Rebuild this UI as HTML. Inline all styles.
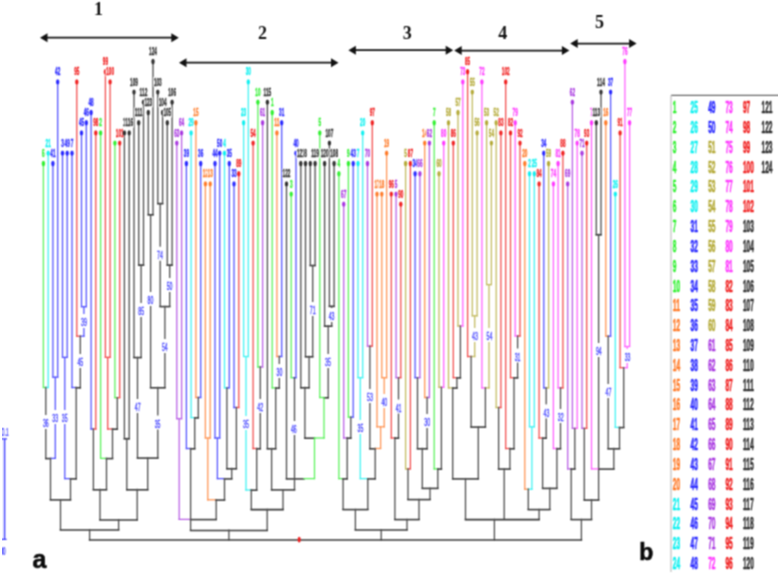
<!DOCTYPE html>
<html><head><meta charset="utf-8"><title>Dendrogram</title>
<style>html,body{margin:0;padding:0;background:#fff;}body{width:778px;height:577px;position:relative;overflow:hidden;font-family:"Liberation Sans",sans-serif;}</style></head>
<body>
<svg width="778" height="577" viewBox="0 0 778 577" style="position:absolute;left:0;top:0">
<defs><filter id="bl" x="0" y="0" width="100%" height="100%" color-interpolation-filters="sRGB"><feConvolveMatrix order="3" kernelMatrix="0.0576 0.1248 0.0576 0.1248 0.2704 0.1248 0.0576 0.1248 0.0576" divisor="1" edgeMode="duplicate" preserveAlpha="false"/></filter></defs>
<g filter="url(#bl)">
<g fill="none" stroke-linecap="square">
<path d="M43.4 163.5L43.4 387.5" stroke="#55f255" stroke-width="1.25"/>
<path d="M48.2 153.3L48.2 387.5" stroke="#3bf2f2" stroke-width="1.25"/>
<path d="M43.4 387.5L45.8 387.5" stroke="#55f255" stroke-width="1.25"/>
<path d="M45.8 387.5L48.2 387.5" stroke="#3bf2f2" stroke-width="1.25"/>
<path d="M52.9 163.5L52.9 377.2" stroke="#4e4eff" stroke-width="1.25"/>
<path d="M57.7 81.9L57.7 377.2" stroke="#4e4eff" stroke-width="1.25"/>
<path d="M52.9 377.2L57.7 377.2" stroke="#4e4eff" stroke-width="1.25"/>
<path d="M45.8 387.5L45.8 458.4" stroke="#4c4c4c" stroke-width="1.3"/>
<path d="M55.3 377.2L55.3 458.4" stroke="#4e4eff" stroke-width="1.25"/>
<path d="M45.8 458.6L50.5 458.6" stroke="#383838" stroke-width="1.55"/>
<path d="M50.5 458.4L55.3 458.4" stroke="#4e4eff" stroke-width="1.25"/>
<path d="M62.5 153.3L62.5 357.4" stroke="#4e4eff" stroke-width="1.25"/>
<path d="M67.2 153.3L67.2 357.4" stroke="#4e4eff" stroke-width="1.25"/>
<path d="M62.5 357.4L67.2 357.4" stroke="#4e4eff" stroke-width="1.25"/>
<path d="M81.5 132.9L81.5 306.7" stroke="#4e4eff" stroke-width="1.25"/>
<path d="M86.3 122.7L86.3 306.7" stroke="#4e4eff" stroke-width="1.25"/>
<path d="M81.5 306.7L86.3 306.7" stroke="#4e4eff" stroke-width="1.25"/>
<path d="M76.8 81.9L76.8 336.2" stroke="#f24848" stroke-width="1.25"/>
<path d="M83.9 306.7L83.9 336.2" stroke="#4e4eff" stroke-width="1.25"/>
<path d="M76.8 336.2L80.3 336.2" stroke="#f24848" stroke-width="1.25"/>
<path d="M80.3 336.2L83.9 336.2" stroke="#4e4eff" stroke-width="1.25"/>
<path d="M72.0 153.3L72.0 387.5" stroke="#4e4eff" stroke-width="1.25"/>
<path d="M80.3 336.2L80.3 387.5" stroke="#4c4c4c" stroke-width="1.3"/>
<path d="M72.0 387.5L76.2 387.5" stroke="#4e4eff" stroke-width="1.25"/>
<path d="M76.2 387.8L80.3 387.8" stroke="#383838" stroke-width="1.55"/>
<path d="M64.8 357.4L64.8 478.6" stroke="#4e4eff" stroke-width="1.25"/>
<path d="M76.2 387.5L76.2 478.6" stroke="#4c4c4c" stroke-width="1.3"/>
<path d="M64.8 478.6L70.5 478.6" stroke="#4e4eff" stroke-width="1.25"/>
<path d="M70.5 478.9L76.2 478.9" stroke="#383838" stroke-width="1.55"/>
<path d="M50.5 458.4L50.5 499.7" stroke="#4c4c4c" stroke-width="1.3"/>
<path d="M70.5 478.6L70.5 499.7" stroke="#4c4c4c" stroke-width="1.3"/>
<path d="M50.5 499.9L70.5 499.9" stroke="#383838" stroke-width="1.55"/>
<path d="M91.1 112.5L91.1 429.0" stroke="#4e4eff" stroke-width="1.25"/>
<path d="M95.8 132.9L95.8 429.0" stroke="#f24848" stroke-width="1.25"/>
<path d="M91.1 429.0L93.4 429.0" stroke="#4e4eff" stroke-width="1.25"/>
<path d="M93.4 429.0L95.8 429.0" stroke="#f24848" stroke-width="1.25"/>
<path d="M105.4 71.7L105.4 357.4" stroke="#f24848" stroke-width="1.25"/>
<path d="M110.1 81.9L110.1 357.4" stroke="#f24848" stroke-width="1.25"/>
<path d="M105.4 357.4L110.1 357.4" stroke="#f24848" stroke-width="1.25"/>
<path d="M114.9 143.1L114.9 397.7" stroke="#55f255" stroke-width="1.25"/>
<path d="M119.7 143.1L119.7 397.7" stroke="#f24848" stroke-width="1.25"/>
<path d="M114.9 397.7L117.3 397.7" stroke="#55f255" stroke-width="1.25"/>
<path d="M117.3 397.7L119.7 397.7" stroke="#f24848" stroke-width="1.25"/>
<path d="M107.7 357.4L107.7 429.0" stroke="#f24848" stroke-width="1.25"/>
<path d="M117.3 397.7L117.3 429.0" stroke="#4c4c4c" stroke-width="1.3"/>
<path d="M107.7 429.0L112.5 429.0" stroke="#f24848" stroke-width="1.25"/>
<path d="M112.5 429.2L117.3 429.2" stroke="#383838" stroke-width="1.55"/>
<path d="M100.6 132.9L100.6 458.4" stroke="#55f255" stroke-width="1.25"/>
<path d="M112.5 429.0L112.5 458.4" stroke="#4c4c4c" stroke-width="1.3"/>
<path d="M100.6 458.4L106.5 458.4" stroke="#55f255" stroke-width="1.25"/>
<path d="M106.5 458.6L112.5 458.6" stroke="#383838" stroke-width="1.55"/>
<path d="M93.4 429.0L93.4 489.5" stroke="#4c4c4c" stroke-width="1.3"/>
<path d="M106.5 458.4L106.5 489.5" stroke="#4c4c4c" stroke-width="1.3"/>
<path d="M93.4 489.8L106.5 489.8" stroke="#383838" stroke-width="1.55"/>
<path d="M124.4 132.9L124.4 438.5" stroke="#4c4c4c" stroke-width="1.3"/>
<path d="M129.2 132.9L129.2 438.5" stroke="#4c4c4c" stroke-width="1.3"/>
<path d="M124.4 438.8L129.2 438.8" stroke="#383838" stroke-width="1.55"/>
<path d="M138.7 122.7L138.7 265.0" stroke="#4c4c4c" stroke-width="1.3"/>
<path d="M143.5 102.3L143.5 265.0" stroke="#4c4c4c" stroke-width="1.3"/>
<path d="M138.7 265.2L143.5 265.2" stroke="#383838" stroke-width="1.55"/>
<path d="M134.0 92.1L134.0 357.4" stroke="#4c4c4c" stroke-width="1.3"/>
<path d="M141.1 265.0L141.1 357.4" stroke="#4c4c4c" stroke-width="1.3"/>
<path d="M134.0 357.6L141.1 357.6" stroke="#383838" stroke-width="1.55"/>
<path d="M148.3 112.5L148.3 214.6" stroke="#4c4c4c" stroke-width="1.3"/>
<path d="M153.0 61.5L153.0 214.6" stroke="#4c4c4c" stroke-width="1.3"/>
<path d="M148.3 214.8L153.0 214.8" stroke="#383838" stroke-width="1.55"/>
<path d="M157.8 92.1L157.8 203.4" stroke="#4c4c4c" stroke-width="1.3"/>
<path d="M162.6 112.5L162.6 203.4" stroke="#4c4c4c" stroke-width="1.3"/>
<path d="M157.8 203.7L162.6 203.7" stroke="#383838" stroke-width="1.55"/>
<path d="M167.3 122.7L167.3 265.0" stroke="#4c4c4c" stroke-width="1.3"/>
<path d="M172.1 102.3L172.1 265.0" stroke="#4c4c4c" stroke-width="1.3"/>
<path d="M167.3 265.2L172.1 265.2" stroke="#383838" stroke-width="1.55"/>
<path d="M160.2 203.4L160.2 306.3" stroke="#4c4c4c" stroke-width="1.3"/>
<path d="M169.7 265.0L169.7 306.3" stroke="#4c4c4c" stroke-width="1.3"/>
<path d="M160.2 306.6L169.7 306.6" stroke="#383838" stroke-width="1.55"/>
<path d="M150.6 214.6L150.6 387.5" stroke="#4c4c4c" stroke-width="1.3"/>
<path d="M164.9 306.3L164.9 387.5" stroke="#4c4c4c" stroke-width="1.3"/>
<path d="M150.6 387.8L164.9 387.8" stroke="#383838" stroke-width="1.55"/>
<path d="M137.5 357.4L137.5 457.8" stroke="#4c4c4c" stroke-width="1.3"/>
<path d="M157.8 387.5L157.8 457.8" stroke="#4c4c4c" stroke-width="1.3"/>
<path d="M137.5 458.1L157.8 458.1" stroke="#383838" stroke-width="1.55"/>
<path d="M126.8 438.5L126.8 489.5" stroke="#4c4c4c" stroke-width="1.3"/>
<path d="M147.7 457.8L147.7 489.5" stroke="#4c4c4c" stroke-width="1.3"/>
<path d="M126.8 489.8L147.7 489.8" stroke="#383838" stroke-width="1.55"/>
<path d="M100.0 489.5L100.0 519.6" stroke="#4c4c4c" stroke-width="1.3"/>
<path d="M137.2 489.5L137.2 519.6" stroke="#4c4c4c" stroke-width="1.3"/>
<path d="M100.0 519.9L137.2 519.9" stroke="#383838" stroke-width="1.55"/>
<path d="M60.5 499.7L60.5 529.6" stroke="#4c4c4c" stroke-width="1.3"/>
<path d="M118.6 519.6L118.6 529.6" stroke="#4c4c4c" stroke-width="1.3"/>
<path d="M60.5 529.9L118.6 529.9" stroke="#383838" stroke-width="1.55"/>
<path d="M89.6 529.6L89.6 539.8" stroke="#4c4c4c" stroke-width="1.3"/>
<path d="M176.8 143.1L176.8 418.7" stroke="#b75be5" stroke-width="1.25"/>
<path d="M181.6 132.9L181.6 418.7" stroke="#b75be5" stroke-width="1.25"/>
<path d="M176.8 418.7L181.6 418.7" stroke="#b75be5" stroke-width="1.25"/>
<path d="M195.9 122.7L195.9 397.5" stroke="#ff914e" stroke-width="1.25"/>
<path d="M200.7 163.5L200.7 397.5" stroke="#4e4eff" stroke-width="1.25"/>
<path d="M195.9 397.5L198.3 397.5" stroke="#ff914e" stroke-width="1.25"/>
<path d="M198.3 397.5L200.7 397.5" stroke="#4e4eff" stroke-width="1.25"/>
<path d="M191.1 132.9L191.1 417.6" stroke="#3bf2f2" stroke-width="1.25"/>
<path d="M198.3 397.5L198.3 417.6" stroke="#4c4c4c" stroke-width="1.3"/>
<path d="M191.1 417.6L194.7 417.6" stroke="#3bf2f2" stroke-width="1.25"/>
<path d="M194.7 417.9L198.3 417.9" stroke="#383838" stroke-width="1.55"/>
<path d="M186.4 163.5L186.4 448.5" stroke="#4e4eff" stroke-width="1.25"/>
<path d="M194.7 417.6L194.7 448.5" stroke="#4c4c4c" stroke-width="1.3"/>
<path d="M186.4 448.5L190.6 448.5" stroke="#4e4eff" stroke-width="1.25"/>
<path d="M190.6 448.8L194.7 448.8" stroke="#383838" stroke-width="1.55"/>
<path d="M205.4 183.9L205.4 438.0" stroke="#ff914e" stroke-width="1.25"/>
<path d="M210.2 183.9L210.2 438.0" stroke="#ff914e" stroke-width="1.25"/>
<path d="M205.4 438.0L210.2 438.0" stroke="#ff914e" stroke-width="1.25"/>
<path d="M215.0 163.5L215.0 438.0" stroke="#4e4eff" stroke-width="1.25"/>
<path d="M219.7 153.3L219.7 438.0" stroke="#4e4eff" stroke-width="1.25"/>
<path d="M215.0 438.0L219.7 438.0" stroke="#4e4eff" stroke-width="1.25"/>
<path d="M224.5 153.3L224.5 387.9" stroke="#3bf2f2" stroke-width="1.25"/>
<path d="M229.3 163.5L229.3 387.9" stroke="#4e4eff" stroke-width="1.25"/>
<path d="M224.5 387.9L226.9 387.9" stroke="#3bf2f2" stroke-width="1.25"/>
<path d="M226.9 387.9L229.3 387.9" stroke="#4e4eff" stroke-width="1.25"/>
<path d="M234.0 183.9L234.0 407.5" stroke="#4e4eff" stroke-width="1.25"/>
<path d="M238.8 173.7L238.8 407.5" stroke="#f24848" stroke-width="1.25"/>
<path d="M234.0 407.5L236.4 407.5" stroke="#4e4eff" stroke-width="1.25"/>
<path d="M236.4 407.5L238.8 407.5" stroke="#f24848" stroke-width="1.25"/>
<path d="M226.9 387.9L226.9 468.5" stroke="#4c4c4c" stroke-width="1.3"/>
<path d="M236.4 407.5L236.4 468.5" stroke="#4c4c4c" stroke-width="1.3"/>
<path d="M226.9 468.8L236.4 468.8" stroke="#383838" stroke-width="1.55"/>
<path d="M217.4 438.0L217.4 478.6" stroke="#4e4eff" stroke-width="1.25"/>
<path d="M231.7 468.5L231.7 478.6" stroke="#4c4c4c" stroke-width="1.3"/>
<path d="M217.4 478.6L224.5 478.6" stroke="#4e4eff" stroke-width="1.25"/>
<path d="M224.5 478.9L231.7 478.9" stroke="#383838" stroke-width="1.55"/>
<path d="M207.8 438.0L207.8 499.8" stroke="#ff914e" stroke-width="1.25"/>
<path d="M224.5 478.6L224.5 499.8" stroke="#4c4c4c" stroke-width="1.3"/>
<path d="M207.8 499.8L216.2 499.8" stroke="#ff914e" stroke-width="1.25"/>
<path d="M216.2 500.1L224.5 500.1" stroke="#383838" stroke-width="1.55"/>
<path d="M179.2 418.7L179.2 519.4" stroke="#b75be5" stroke-width="1.25"/>
<path d="M216.2 499.8L216.2 519.4" stroke="#4c4c4c" stroke-width="1.3"/>
<path d="M179.2 519.4L190.6 519.4" stroke="#b75be5" stroke-width="1.25"/>
<path d="M190.6 519.6L216.2 519.6" stroke="#383838" stroke-width="1.55"/>
<path d="M243.6 122.7L243.6 356.5" stroke="#3bf2f2" stroke-width="1.25"/>
<path d="M248.3 81.9L248.3 356.5" stroke="#3bf2f2" stroke-width="1.25"/>
<path d="M243.6 356.5L248.3 356.5" stroke="#3bf2f2" stroke-width="1.25"/>
<path d="M257.9 102.3L257.9 367.0" stroke="#55f255" stroke-width="1.25"/>
<path d="M262.6 122.7L262.6 367.0" stroke="#b75be5" stroke-width="1.25"/>
<path d="M257.9 367.0L260.3 367.0" stroke="#55f255" stroke-width="1.25"/>
<path d="M260.3 367.0L262.6 367.0" stroke="#b75be5" stroke-width="1.25"/>
<path d="M253.1 143.1L253.1 448.5" stroke="#f24848" stroke-width="1.25"/>
<path d="M260.3 367.0L260.3 448.5" stroke="#4c4c4c" stroke-width="1.3"/>
<path d="M253.1 448.5L256.7 448.5" stroke="#f24848" stroke-width="1.25"/>
<path d="M256.7 448.8L260.3 448.8" stroke="#383838" stroke-width="1.55"/>
<path d="M246.0 356.5L246.0 490.0" stroke="#3bf2f2" stroke-width="1.25"/>
<path d="M256.7 448.5L256.7 490.0" stroke="#4c4c4c" stroke-width="1.3"/>
<path d="M246.0 490.0L251.3 490.0" stroke="#3bf2f2" stroke-width="1.25"/>
<path d="M251.3 490.2L256.7 490.2" stroke="#383838" stroke-width="1.55"/>
<path d="M276.9 132.9L276.9 356.5" stroke="#ff914e" stroke-width="1.25"/>
<path d="M281.7 122.7L281.7 356.5" stroke="#4e4eff" stroke-width="1.25"/>
<path d="M276.9 356.5L279.3 356.5" stroke="#ff914e" stroke-width="1.25"/>
<path d="M279.3 356.5L281.7 356.5" stroke="#4e4eff" stroke-width="1.25"/>
<path d="M272.2 112.5L272.2 387.9" stroke="#55f255" stroke-width="1.25"/>
<path d="M279.3 356.5L279.3 387.9" stroke="#4c4c4c" stroke-width="1.3"/>
<path d="M272.2 387.9L275.7 387.9" stroke="#55f255" stroke-width="1.25"/>
<path d="M275.7 388.1L279.3 388.1" stroke="#383838" stroke-width="1.55"/>
<path d="M267.4 102.3L267.4 448.5" stroke="#4c4c4c" stroke-width="1.3"/>
<path d="M275.7 387.9L275.7 448.5" stroke="#4c4c4c" stroke-width="1.3"/>
<path d="M267.4 448.8L275.7 448.8" stroke="#383838" stroke-width="1.55"/>
<path d="M291.2 194.1L291.2 377.7" stroke="#55f255" stroke-width="1.25"/>
<path d="M296.0 153.3L296.0 377.7" stroke="#4e4eff" stroke-width="1.25"/>
<path d="M291.2 377.7L293.6 377.7" stroke="#55f255" stroke-width="1.25"/>
<path d="M293.6 377.7L296.0 377.7" stroke="#4e4eff" stroke-width="1.25"/>
<path d="M310.3 163.5L310.3 265.3" stroke="#4c4c4c" stroke-width="1.3"/>
<path d="M315.1 163.5L315.1 265.3" stroke="#4c4c4c" stroke-width="1.3"/>
<path d="M310.3 265.6L315.1 265.6" stroke="#383838" stroke-width="1.55"/>
<path d="M305.5 163.5L305.5 356.5" stroke="#4c4c4c" stroke-width="1.3"/>
<path d="M312.7 265.3L312.7 356.5" stroke="#4c4c4c" stroke-width="1.3"/>
<path d="M305.5 356.8L312.7 356.8" stroke="#383838" stroke-width="1.55"/>
<path d="M300.8 163.5L300.8 387.5" stroke="#4c4c4c" stroke-width="1.3"/>
<path d="M309.1 356.5L309.1 387.5" stroke="#4c4c4c" stroke-width="1.3"/>
<path d="M300.8 387.8L309.1 387.8" stroke="#383838" stroke-width="1.55"/>
<path d="M329.4 143.1L329.4 306.2" stroke="#4c4c4c" stroke-width="1.3"/>
<path d="M334.1 163.5L334.1 306.2" stroke="#4c4c4c" stroke-width="1.3"/>
<path d="M329.4 306.4L334.1 306.4" stroke="#383838" stroke-width="1.55"/>
<path d="M324.6 163.5L324.6 326.0" stroke="#4c4c4c" stroke-width="1.3"/>
<path d="M331.7 306.2L331.7 326.0" stroke="#4c4c4c" stroke-width="1.3"/>
<path d="M324.6 326.2L331.7 326.2" stroke="#383838" stroke-width="1.55"/>
<path d="M319.8 132.9L319.8 397.5" stroke="#55f255" stroke-width="1.25"/>
<path d="M328.2 326.0L328.2 397.5" stroke="#4c4c4c" stroke-width="1.3"/>
<path d="M319.8 397.5L324.0 397.5" stroke="#55f255" stroke-width="1.25"/>
<path d="M324.0 397.8L328.2 397.8" stroke="#383838" stroke-width="1.55"/>
<path d="M304.9 387.5L304.9 438.0" stroke="#4c4c4c" stroke-width="1.3"/>
<path d="M324.0 397.5L324.0 438.0" stroke="#55f255" stroke-width="1.25"/>
<path d="M304.9 438.2L314.5 438.2" stroke="#383838" stroke-width="1.55"/>
<path d="M314.5 438.0L324.0 438.0" stroke="#55f255" stroke-width="1.25"/>
<path d="M286.5 183.9L286.5 478.6" stroke="#4c4c4c" stroke-width="1.3"/>
<path d="M314.5 438.0L314.5 478.6" stroke="#55f255" stroke-width="1.25"/>
<path d="M286.5 478.9L304.0 478.9" stroke="#383838" stroke-width="1.55"/>
<path d="M304.0 478.6L314.5 478.6" stroke="#55f255" stroke-width="1.25"/>
<path d="M271.6 448.5L271.6 489.7" stroke="#4c4c4c" stroke-width="1.3"/>
<path d="M294.5 377.7L294.5 489.7" stroke="#4c4c4c" stroke-width="1.3"/>
<path d="M271.6 489.9L294.5 489.9" stroke="#383838" stroke-width="1.55"/>
<path d="M251.3 490.0L251.3 509.4" stroke="#4c4c4c" stroke-width="1.3"/>
<path d="M283.0 489.7L283.0 509.4" stroke="#4c4c4c" stroke-width="1.3"/>
<path d="M251.3 509.6L283.0 509.6" stroke="#383838" stroke-width="1.55"/>
<path d="M190.6 448.5L190.6 530.2" stroke="#4c4c4c" stroke-width="1.3"/>
<path d="M267.2 509.4L267.2 530.2" stroke="#4c4c4c" stroke-width="1.3"/>
<path d="M190.6 530.5L267.2 530.5" stroke="#383838" stroke-width="1.55"/>
<path d="M228.9 530.2L228.9 539.8" stroke="#4c4c4c" stroke-width="1.3"/>
<path d="M348.4 163.5L348.4 417.2" stroke="#55f255" stroke-width="1.25"/>
<path d="M353.2 163.5L353.2 417.2" stroke="#4e4eff" stroke-width="1.25"/>
<path d="M348.4 417.2L350.8 417.2" stroke="#55f255" stroke-width="1.25"/>
<path d="M350.8 417.2L353.2 417.2" stroke="#4e4eff" stroke-width="1.25"/>
<path d="M343.7 204.3L343.7 438.0" stroke="#b75be5" stroke-width="1.25"/>
<path d="M350.8 417.2L350.8 438.0" stroke="#4c4c4c" stroke-width="1.3"/>
<path d="M343.7 438.0L347.2 438.0" stroke="#b75be5" stroke-width="1.25"/>
<path d="M347.2 438.2L350.8 438.2" stroke="#383838" stroke-width="1.55"/>
<path d="M338.9 173.7L338.9 478.6" stroke="#55f255" stroke-width="1.25"/>
<path d="M347.2 438.0L347.2 478.6" stroke="#4c4c4c" stroke-width="1.3"/>
<path d="M338.9 478.6L343.1 478.6" stroke="#55f255" stroke-width="1.25"/>
<path d="M343.1 478.9L347.2 478.9" stroke="#383838" stroke-width="1.55"/>
<path d="M358.0 163.5L358.0 377.7" stroke="#3bf2f2" stroke-width="1.25"/>
<path d="M362.7 132.9L362.7 377.7" stroke="#3bf2f2" stroke-width="1.25"/>
<path d="M358.0 377.7L362.7 377.7" stroke="#3bf2f2" stroke-width="1.25"/>
<path d="M367.5 163.5L367.5 346.2" stroke="#b75be5" stroke-width="1.25"/>
<path d="M372.3 122.7L372.3 346.2" stroke="#f24848" stroke-width="1.25"/>
<path d="M367.5 346.2L369.9 346.2" stroke="#b75be5" stroke-width="1.25"/>
<path d="M369.9 346.2L372.3 346.2" stroke="#f24848" stroke-width="1.25"/>
<path d="M381.8 194.1L381.8 377.7" stroke="#ff914e" stroke-width="1.25"/>
<path d="M386.6 153.3L386.6 377.7" stroke="#ff914e" stroke-width="1.25"/>
<path d="M381.8 377.7L386.6 377.7" stroke="#ff914e" stroke-width="1.25"/>
<path d="M377.0 194.1L377.0 426.8" stroke="#ff914e" stroke-width="1.25"/>
<path d="M384.2 377.7L384.2 426.8" stroke="#ff914e" stroke-width="1.25"/>
<path d="M377.0 426.8L384.2 426.8" stroke="#ff914e" stroke-width="1.25"/>
<path d="M369.9 346.2L369.9 448.5" stroke="#4c4c4c" stroke-width="1.3"/>
<path d="M380.6 426.8L380.6 448.5" stroke="#ff914e" stroke-width="1.25"/>
<path d="M369.9 448.8L375.2 448.8" stroke="#383838" stroke-width="1.55"/>
<path d="M375.2 448.5L380.6 448.5" stroke="#ff914e" stroke-width="1.25"/>
<path d="M360.3 377.7L360.3 478.6" stroke="#3bf2f2" stroke-width="1.25"/>
<path d="M375.2 448.5L375.2 478.6" stroke="#4c4c4c" stroke-width="1.3"/>
<path d="M360.3 478.6L367.8 478.6" stroke="#3bf2f2" stroke-width="1.25"/>
<path d="M367.8 478.9L375.2 478.9" stroke="#383838" stroke-width="1.55"/>
<path d="M343.1 478.6L343.1 509.4" stroke="#4c4c4c" stroke-width="1.3"/>
<path d="M367.8 478.6L367.8 509.4" stroke="#4c4c4c" stroke-width="1.3"/>
<path d="M343.1 509.6L367.8 509.6" stroke="#383838" stroke-width="1.55"/>
<path d="M396.1 194.1L396.1 377.7" stroke="#b75be5" stroke-width="1.25"/>
<path d="M400.8 204.3L400.8 377.7" stroke="#f24848" stroke-width="1.25"/>
<path d="M396.1 377.7L398.5 377.7" stroke="#b75be5" stroke-width="1.25"/>
<path d="M398.5 377.7L400.8 377.7" stroke="#f24848" stroke-width="1.25"/>
<path d="M391.3 194.1L391.3 438.0" stroke="#f24848" stroke-width="1.25"/>
<path d="M398.5 377.7L398.5 438.0" stroke="#4c4c4c" stroke-width="1.3"/>
<path d="M391.3 438.0L394.9 438.0" stroke="#f24848" stroke-width="1.25"/>
<path d="M394.9 438.2L398.5 438.2" stroke="#383838" stroke-width="1.55"/>
<path d="M405.6 163.5L405.6 468.9" stroke="#c1b95b" stroke-width="1.25"/>
<path d="M410.4 163.5L410.4 468.9" stroke="#f24848" stroke-width="1.25"/>
<path d="M405.6 468.9L408.0 468.9" stroke="#c1b95b" stroke-width="1.25"/>
<path d="M408.0 468.9L410.4 468.9" stroke="#f24848" stroke-width="1.25"/>
<path d="M415.1 173.7L415.1 377.7" stroke="#4e4eff" stroke-width="1.25"/>
<path d="M419.9 173.7L419.9 377.7" stroke="#b75be5" stroke-width="1.25"/>
<path d="M415.1 377.7L417.5 377.7" stroke="#4e4eff" stroke-width="1.25"/>
<path d="M417.5 377.7L419.9 377.7" stroke="#b75be5" stroke-width="1.25"/>
<path d="M424.7 143.1L424.7 397.5" stroke="#ff914e" stroke-width="1.25"/>
<path d="M429.4 143.1L429.4 397.5" stroke="#b75be5" stroke-width="1.25"/>
<path d="M424.7 397.5L427.1 397.5" stroke="#ff914e" stroke-width="1.25"/>
<path d="M427.1 397.5L429.4 397.5" stroke="#b75be5" stroke-width="1.25"/>
<path d="M417.5 377.7L417.5 448.5" stroke="#4c4c4c" stroke-width="1.3"/>
<path d="M427.1 397.5L427.1 448.5" stroke="#4c4c4c" stroke-width="1.3"/>
<path d="M417.5 448.8L427.1 448.8" stroke="#383838" stroke-width="1.55"/>
<path d="M439.0 173.7L439.0 387.3" stroke="#c1b95b" stroke-width="1.25"/>
<path d="M443.7 143.1L443.7 387.3" stroke="#ff5bff" stroke-width="1.25"/>
<path d="M439.0 387.3L441.4 387.3" stroke="#c1b95b" stroke-width="1.25"/>
<path d="M441.4 387.3L443.7 387.3" stroke="#ff5bff" stroke-width="1.25"/>
<path d="M434.2 122.7L434.2 468.9" stroke="#55f255" stroke-width="1.25"/>
<path d="M441.4 387.3L441.4 468.9" stroke="#4c4c4c" stroke-width="1.3"/>
<path d="M434.2 468.9L437.8 468.9" stroke="#55f255" stroke-width="1.25"/>
<path d="M437.8 469.1L441.4 469.1" stroke="#383838" stroke-width="1.55"/>
<path d="M422.3 448.5L422.3 488.2" stroke="#4c4c4c" stroke-width="1.3"/>
<path d="M437.8 468.9L437.8 488.2" stroke="#4c4c4c" stroke-width="1.3"/>
<path d="M422.3 488.4L437.8 488.4" stroke="#383838" stroke-width="1.55"/>
<path d="M408.0 468.9L408.0 499.4" stroke="#4c4c4c" stroke-width="1.3"/>
<path d="M430.0 488.2L430.0 499.4" stroke="#4c4c4c" stroke-width="1.3"/>
<path d="M408.0 499.6L430.0 499.6" stroke="#383838" stroke-width="1.55"/>
<path d="M394.9 438.0L394.9 519.4" stroke="#4c4c4c" stroke-width="1.3"/>
<path d="M419.0 499.4L419.0 519.4" stroke="#4c4c4c" stroke-width="1.3"/>
<path d="M394.9 519.6L419.0 519.6" stroke="#383838" stroke-width="1.55"/>
<path d="M355.4 509.4L355.4 529.6" stroke="#4c4c4c" stroke-width="1.3"/>
<path d="M407.0 519.4L407.0 529.6" stroke="#4c4c4c" stroke-width="1.3"/>
<path d="M355.4 529.9L407.0 529.9" stroke="#383838" stroke-width="1.55"/>
<path d="M381.2 529.6L381.2 539.8" stroke="#4c4c4c" stroke-width="1.3"/>
<path d="M458.0 112.5L458.0 326.0" stroke="#c1b95b" stroke-width="1.25"/>
<path d="M462.8 81.9L462.8 326.0" stroke="#ff5bff" stroke-width="1.25"/>
<path d="M458.0 326.0L460.4 326.0" stroke="#c1b95b" stroke-width="1.25"/>
<path d="M460.4 326.0L462.8 326.0" stroke="#ff5bff" stroke-width="1.25"/>
<path d="M453.3 143.1L453.3 377.7" stroke="#f24848" stroke-width="1.25"/>
<path d="M460.4 326.0L460.4 377.7" stroke="#4c4c4c" stroke-width="1.3"/>
<path d="M453.3 377.7L456.9 377.7" stroke="#f24848" stroke-width="1.25"/>
<path d="M456.9 377.9L460.4 377.9" stroke="#383838" stroke-width="1.55"/>
<path d="M448.5 122.7L448.5 387.9" stroke="#c1b95b" stroke-width="1.25"/>
<path d="M456.9 377.7L456.9 387.9" stroke="#4c4c4c" stroke-width="1.3"/>
<path d="M448.5 387.9L452.7 387.9" stroke="#c1b95b" stroke-width="1.25"/>
<path d="M452.7 388.1L456.9 388.1" stroke="#383838" stroke-width="1.55"/>
<path d="M472.3 92.1L472.3 315.8" stroke="#c1b95b" stroke-width="1.25"/>
<path d="M477.1 132.9L477.1 315.8" stroke="#c1b95b" stroke-width="1.25"/>
<path d="M472.3 315.8L477.1 315.8" stroke="#c1b95b" stroke-width="1.25"/>
<path d="M467.6 71.7L467.6 356.5" stroke="#f24848" stroke-width="1.25"/>
<path d="M474.7 315.8L474.7 356.5" stroke="#c1b95b" stroke-width="1.25"/>
<path d="M467.6 356.5L471.1 356.5" stroke="#f24848" stroke-width="1.25"/>
<path d="M471.1 356.5L474.7 356.5" stroke="#c1b95b" stroke-width="1.25"/>
<path d="M486.6 122.7L486.6 284.6" stroke="#c1b95b" stroke-width="1.25"/>
<path d="M491.4 143.1L491.4 284.6" stroke="#c1b95b" stroke-width="1.25"/>
<path d="M486.6 284.6L491.4 284.6" stroke="#c1b95b" stroke-width="1.25"/>
<path d="M481.9 81.9L481.9 387.9" stroke="#ff5bff" stroke-width="1.25"/>
<path d="M489.0 284.6L489.0 387.9" stroke="#c1b95b" stroke-width="1.25"/>
<path d="M481.9 387.9L485.4 387.9" stroke="#ff5bff" stroke-width="1.25"/>
<path d="M485.4 387.9L489.0 387.9" stroke="#c1b95b" stroke-width="1.25"/>
<path d="M471.1 356.5L471.1 426.8" stroke="#4c4c4c" stroke-width="1.3"/>
<path d="M485.4 387.9L485.4 426.8" stroke="#4c4c4c" stroke-width="1.3"/>
<path d="M471.1 427.1L485.4 427.1" stroke="#383838" stroke-width="1.55"/>
<path d="M452.7 387.9L452.7 478.6" stroke="#4c4c4c" stroke-width="1.3"/>
<path d="M478.3 426.8L478.3 478.6" stroke="#4c4c4c" stroke-width="1.3"/>
<path d="M452.7 478.9L478.3 478.9" stroke="#383838" stroke-width="1.55"/>
<path d="M496.2 122.7L496.2 407.5" stroke="#c1b95b" stroke-width="1.25"/>
<path d="M500.9 132.9L500.9 407.5" stroke="#f24848" stroke-width="1.25"/>
<path d="M496.2 407.5L498.6 407.5" stroke="#c1b95b" stroke-width="1.25"/>
<path d="M498.6 407.5L500.9 407.5" stroke="#f24848" stroke-width="1.25"/>
<path d="M515.2 122.7L515.2 336.0" stroke="#ff5bff" stroke-width="1.25"/>
<path d="M520.0 143.1L520.0 336.0" stroke="#f24848" stroke-width="1.25"/>
<path d="M515.2 336.0L517.6 336.0" stroke="#ff5bff" stroke-width="1.25"/>
<path d="M517.6 336.0L520.0 336.0" stroke="#f24848" stroke-width="1.25"/>
<path d="M510.5 132.9L510.5 377.7" stroke="#f24848" stroke-width="1.25"/>
<path d="M517.6 336.0L517.6 377.7" stroke="#4c4c4c" stroke-width="1.3"/>
<path d="M510.5 377.7L514.0 377.7" stroke="#f24848" stroke-width="1.25"/>
<path d="M514.0 377.9L517.6 377.9" stroke="#383838" stroke-width="1.55"/>
<path d="M505.7 81.9L505.7 448.5" stroke="#f24848" stroke-width="1.25"/>
<path d="M514.0 377.7L514.0 448.5" stroke="#4c4c4c" stroke-width="1.3"/>
<path d="M505.7 448.5L509.9 448.5" stroke="#f24848" stroke-width="1.25"/>
<path d="M509.9 448.8L514.0 448.8" stroke="#383838" stroke-width="1.55"/>
<path d="M498.6 407.5L498.6 468.9" stroke="#4c4c4c" stroke-width="1.3"/>
<path d="M509.9 448.5L509.9 468.9" stroke="#4c4c4c" stroke-width="1.3"/>
<path d="M498.6 469.1L509.9 469.1" stroke="#383838" stroke-width="1.55"/>
<path d="M529.5 173.7L529.5 426.8" stroke="#3bf2f2" stroke-width="1.25"/>
<path d="M534.3 173.7L534.3 426.8" stroke="#3bf2f2" stroke-width="1.25"/>
<path d="M529.5 426.8L534.3 426.8" stroke="#3bf2f2" stroke-width="1.25"/>
<path d="M524.8 163.5L524.8 489.2" stroke="#ff914e" stroke-width="1.25"/>
<path d="M531.9 426.8L531.9 489.2" stroke="#3bf2f2" stroke-width="1.25"/>
<path d="M524.8 489.2L528.3 489.2" stroke="#ff914e" stroke-width="1.25"/>
<path d="M528.3 489.2L531.9 489.2" stroke="#3bf2f2" stroke-width="1.25"/>
<path d="M543.8 153.3L543.8 387.9" stroke="#4e4eff" stroke-width="1.25"/>
<path d="M548.6 163.5L548.6 387.9" stroke="#c1b95b" stroke-width="1.25"/>
<path d="M543.8 387.9L546.2 387.9" stroke="#4e4eff" stroke-width="1.25"/>
<path d="M546.2 387.9L548.6 387.9" stroke="#c1b95b" stroke-width="1.25"/>
<path d="M539.1 183.9L539.1 438.0" stroke="#f24848" stroke-width="1.25"/>
<path d="M546.2 387.9L546.2 438.0" stroke="#4c4c4c" stroke-width="1.3"/>
<path d="M539.1 438.0L542.6 438.0" stroke="#f24848" stroke-width="1.25"/>
<path d="M542.6 438.2L546.2 438.2" stroke="#383838" stroke-width="1.55"/>
<path d="M558.1 163.5L558.1 387.9" stroke="#ff5bff" stroke-width="1.25"/>
<path d="M562.9 153.3L562.9 387.9" stroke="#f24848" stroke-width="1.25"/>
<path d="M558.1 387.9L560.5 387.9" stroke="#ff5bff" stroke-width="1.25"/>
<path d="M560.5 387.9L562.9 387.9" stroke="#f24848" stroke-width="1.25"/>
<path d="M553.4 183.9L553.4 448.5" stroke="#ff5bff" stroke-width="1.25"/>
<path d="M560.5 387.9L560.5 448.5" stroke="#4c4c4c" stroke-width="1.3"/>
<path d="M553.4 448.5L556.9 448.5" stroke="#ff5bff" stroke-width="1.25"/>
<path d="M556.9 448.8L560.5 448.8" stroke="#383838" stroke-width="1.55"/>
<path d="M542.6 438.0L542.6 488.2" stroke="#4c4c4c" stroke-width="1.3"/>
<path d="M556.9 448.5L556.9 488.2" stroke="#4c4c4c" stroke-width="1.3"/>
<path d="M542.6 488.4L556.9 488.4" stroke="#383838" stroke-width="1.55"/>
<path d="M528.3 489.2L528.3 509.4" stroke="#4c4c4c" stroke-width="1.3"/>
<path d="M549.8 488.2L549.8 509.4" stroke="#4c4c4c" stroke-width="1.3"/>
<path d="M528.3 509.6L549.8 509.6" stroke="#383838" stroke-width="1.55"/>
<path d="M465.5 478.6L465.5 519.4" stroke="#4c4c4c" stroke-width="1.3"/>
<path d="M504.2 468.9L504.2 519.4" stroke="#4c4c4c" stroke-width="1.3"/>
<path d="M539.1 509.4L539.1 519.4" stroke="#4c4c4c" stroke-width="1.3"/>
<path d="M465.5 519.6L539.1 519.6" stroke="#383838" stroke-width="1.55"/>
<path d="M494.4 519.4L494.4 539.8" stroke="#4c4c4c" stroke-width="1.3"/>
<path d="M572.4 102.3L572.4 428.4" stroke="#b75be5" stroke-width="1.25"/>
<path d="M577.2 143.1L577.2 428.4" stroke="#ff5bff" stroke-width="1.25"/>
<path d="M572.4 428.4L574.8 428.4" stroke="#b75be5" stroke-width="1.25"/>
<path d="M574.8 428.4L577.2 428.4" stroke="#ff5bff" stroke-width="1.25"/>
<path d="M567.7 183.9L567.7 468.9" stroke="#b75be5" stroke-width="1.25"/>
<path d="M574.8 428.4L574.8 468.9" stroke="#4c4c4c" stroke-width="1.3"/>
<path d="M567.7 468.9L571.2 468.9" stroke="#b75be5" stroke-width="1.25"/>
<path d="M571.2 469.1L574.8 469.1" stroke="#383838" stroke-width="1.55"/>
<path d="M582.0 153.3L582.0 428.4" stroke="#b75be5" stroke-width="1.25"/>
<path d="M586.7 143.1L586.7 428.4" stroke="#f24848" stroke-width="1.25"/>
<path d="M582.0 428.4L584.3 428.4" stroke="#b75be5" stroke-width="1.25"/>
<path d="M584.3 428.4L586.7 428.4" stroke="#f24848" stroke-width="1.25"/>
<path d="M596.3 122.7L596.3 234.5" stroke="#4c4c4c" stroke-width="1.3"/>
<path d="M601.0 92.1L601.0 234.5" stroke="#4c4c4c" stroke-width="1.3"/>
<path d="M596.3 234.8L601.0 234.8" stroke="#383838" stroke-width="1.55"/>
<path d="M584.3 428.4L584.3 499.8" stroke="#4c4c4c" stroke-width="1.3"/>
<path d="M598.6 234.5L598.6 499.8" stroke="#4c4c4c" stroke-width="1.3"/>
<path d="M584.3 500.1L598.6 500.1" stroke="#383838" stroke-width="1.55"/>
<path d="M571.2 468.9L571.2 519.4" stroke="#4c4c4c" stroke-width="1.3"/>
<path d="M591.5 499.8L591.5 519.4" stroke="#4c4c4c" stroke-width="1.3"/>
<path d="M571.2 519.6L591.5 519.6" stroke="#383838" stroke-width="1.55"/>
<path d="M581.4 519.4L581.4 539.8" stroke="#4c4c4c" stroke-width="1.3"/>
<path d="M605.8 122.7L605.8 336.2" stroke="#ff914e" stroke-width="1.25"/>
<path d="M610.6 92.1L610.6 336.2" stroke="#4e4eff" stroke-width="1.25"/>
<path d="M605.8 336.2L608.2 336.2" stroke="#ff914e" stroke-width="1.25"/>
<path d="M608.2 336.2L610.6 336.2" stroke="#4e4eff" stroke-width="1.25"/>
<path d="M624.9 61.5L624.9 346.5" stroke="#ff5bff" stroke-width="1.25"/>
<path d="M629.6 122.7L629.6 346.5" stroke="#ff5bff" stroke-width="1.25"/>
<path d="M624.9 346.5L629.6 346.5" stroke="#ff5bff" stroke-width="1.25"/>
<path d="M620.1 132.9L620.1 367.7" stroke="#f24848" stroke-width="1.25"/>
<path d="M627.2 346.5L627.2 367.7" stroke="#ff5bff" stroke-width="1.25"/>
<path d="M620.1 367.7L623.7 367.7" stroke="#f24848" stroke-width="1.25"/>
<path d="M623.7 367.7L627.2 367.7" stroke="#ff5bff" stroke-width="1.25"/>
<path d="M615.3 194.1L615.3 427.4" stroke="#3bf2f2" stroke-width="1.25"/>
<path d="M623.7 367.7L623.7 427.4" stroke="#4c4c4c" stroke-width="1.3"/>
<path d="M615.3 427.4L619.5 427.4" stroke="#3bf2f2" stroke-width="1.25"/>
<path d="M619.5 427.6L623.7 427.6" stroke="#383838" stroke-width="1.55"/>
<path d="M608.2 336.2L608.2 448.5" stroke="#4c4c4c" stroke-width="1.3"/>
<path d="M619.5 427.4L619.5 448.5" stroke="#4c4c4c" stroke-width="1.3"/>
<path d="M608.2 448.8L619.5 448.8" stroke="#383838" stroke-width="1.55"/>
<path d="M591.5 122.7L591.5 468.9" stroke="#ff5bff" stroke-width="1.25"/>
<path d="M613.8 448.5L613.8 468.9" stroke="#4c4c4c" stroke-width="1.3"/>
<path d="M591.5 468.9L599.0 468.9" stroke="#ff5bff" stroke-width="1.25"/>
<path d="M599.0 469.1L613.8 469.1" stroke="#383838" stroke-width="1.55"/>
<path d="M89.6 540.0L581.4 540.0" stroke="#383838" stroke-width="1.55"/>
</g>
<g font-family="Liberation Sans, sans-serif" font-size="10" font-weight="bold" text-anchor="middle">
<rect x="41.5" y="148.3" width="3.8" height="10" fill="#fff"/>
<text x="43.4" y="156.9" fill="#30f030" stroke="#30f030" stroke-width="0.35" textLength="2.6" lengthAdjust="spacingAndGlyphs">6</text>
<ellipse cx="43.4" cy="163.5" rx="1.7" ry="2.7" fill="#30f030"/>
<rect x="45.0" y="138.1" width="6.4" height="10" fill="#fff"/>
<text x="48.2" y="146.7" fill="#10f0f0" stroke="#10f0f0" stroke-width="0.35" textLength="5.2" lengthAdjust="spacingAndGlyphs">21</text>
<ellipse cx="48.2" cy="153.3" rx="1.7" ry="2.7" fill="#10f0f0"/>
<rect x="49.7" y="148.3" width="6.4" height="10" fill="#fff"/>
<text x="52.9" y="156.9" fill="#2828ff" stroke="#2828ff" stroke-width="0.35" textLength="5.2" lengthAdjust="spacingAndGlyphs">41</text>
<ellipse cx="52.9" cy="163.5" rx="1.7" ry="2.7" fill="#2828ff"/>
<rect x="54.5" y="66.7" width="6.4" height="10" fill="#fff"/>
<text x="57.7" y="75.3" fill="#2828ff" stroke="#2828ff" stroke-width="0.35" textLength="5.2" lengthAdjust="spacingAndGlyphs">42</text>
<ellipse cx="57.7" cy="81.9" rx="1.7" ry="2.7" fill="#2828ff"/>
<rect x="60.6" y="138.1" width="3.8" height="10" fill="#fff"/>
<text x="62.5" y="146.7" fill="#2828ff" stroke="#2828ff" stroke-width="0.35" textLength="2.6" lengthAdjust="spacingAndGlyphs">3</text>
<ellipse cx="62.5" cy="153.3" rx="1.7" ry="2.7" fill="#2828ff"/>
<rect x="64.0" y="138.1" width="6.4" height="10" fill="#fff"/>
<text x="67.2" y="146.7" fill="#2828ff" stroke="#2828ff" stroke-width="0.35" textLength="5.2" lengthAdjust="spacingAndGlyphs">49</text>
<ellipse cx="67.2" cy="153.3" rx="1.7" ry="2.7" fill="#2828ff"/>
<rect x="70.1" y="138.1" width="3.8" height="10" fill="#fff"/>
<text x="72.0" y="146.7" fill="#2828ff" stroke="#2828ff" stroke-width="0.35" textLength="2.6" lengthAdjust="spacingAndGlyphs">7</text>
<ellipse cx="72.0" cy="153.3" rx="1.7" ry="2.7" fill="#2828ff"/>
<rect x="73.6" y="66.7" width="6.4" height="10" fill="#fff"/>
<text x="76.8" y="75.3" fill="#f02020" stroke="#f02020" stroke-width="0.35" textLength="5.2" lengthAdjust="spacingAndGlyphs">95</text>
<ellipse cx="76.8" cy="81.9" rx="1.7" ry="2.7" fill="#f02020"/>
<rect x="78.3" y="117.7" width="6.4" height="10" fill="#fff"/>
<text x="81.5" y="126.3" fill="#2828ff" stroke="#2828ff" stroke-width="0.35" textLength="5.2" lengthAdjust="spacingAndGlyphs">45</text>
<ellipse cx="81.5" cy="132.9" rx="1.7" ry="2.7" fill="#2828ff"/>
<rect x="83.1" y="107.5" width="6.4" height="10" fill="#fff"/>
<text x="86.3" y="116.1" fill="#2828ff" stroke="#2828ff" stroke-width="0.35" textLength="5.2" lengthAdjust="spacingAndGlyphs">46</text>
<ellipse cx="86.3" cy="122.7" rx="1.7" ry="2.7" fill="#2828ff"/>
<rect x="87.9" y="97.3" width="6.4" height="10" fill="#fff"/>
<text x="91.1" y="105.9" fill="#2828ff" stroke="#2828ff" stroke-width="0.35" textLength="5.2" lengthAdjust="spacingAndGlyphs">48</text>
<ellipse cx="91.1" cy="112.5" rx="1.7" ry="2.7" fill="#2828ff"/>
<rect x="92.6" y="117.7" width="6.4" height="10" fill="#fff"/>
<text x="95.8" y="126.3" fill="#f02020" stroke="#f02020" stroke-width="0.35" textLength="5.2" lengthAdjust="spacingAndGlyphs">98</text>
<ellipse cx="95.8" cy="132.9" rx="1.7" ry="2.7" fill="#f02020"/>
<rect x="98.7" y="117.7" width="3.8" height="10" fill="#fff"/>
<text x="100.6" y="126.3" fill="#30f030" stroke="#30f030" stroke-width="0.35" textLength="2.6" lengthAdjust="spacingAndGlyphs">2</text>
<ellipse cx="100.6" cy="132.9" rx="1.7" ry="2.7" fill="#30f030"/>
<rect x="102.2" y="56.5" width="6.4" height="10" fill="#fff"/>
<text x="105.4" y="65.1" fill="#f02020" stroke="#f02020" stroke-width="0.35" textLength="5.2" lengthAdjust="spacingAndGlyphs">99</text>
<ellipse cx="105.4" cy="71.7" rx="1.7" ry="2.7" fill="#f02020"/>
<rect x="105.6" y="66.7" width="9.0" height="10" fill="#fff"/>
<text x="110.1" y="75.3" fill="#f02020" stroke="#f02020" stroke-width="0.35" textLength="7.8" lengthAdjust="spacingAndGlyphs">100</text>
<ellipse cx="110.1" cy="81.9" rx="1.7" ry="2.7" fill="#f02020"/>
<ellipse cx="114.9" cy="143.1" rx="1.7" ry="2.7" fill="#30f030"/>
<rect x="115.2" y="127.9" width="9.0" height="10" fill="#fff"/>
<text x="119.7" y="136.5" fill="#f02020" stroke="#f02020" stroke-width="0.35" textLength="7.8" lengthAdjust="spacingAndGlyphs">101</text>
<ellipse cx="119.7" cy="143.1" rx="1.7" ry="2.7" fill="#f02020"/>
<rect x="122.5" y="117.7" width="3.8" height="10" fill="#fff"/>
<text x="124.4" y="126.3" fill="#303030" stroke="#303030" stroke-width="0.35" textLength="2.6" lengthAdjust="spacingAndGlyphs">1</text>
<ellipse cx="124.4" cy="132.9" rx="1.7" ry="2.7" fill="#303030"/>
<rect x="124.7" y="117.7" width="9.0" height="10" fill="#fff"/>
<text x="129.2" y="126.3" fill="#303030" stroke="#303030" stroke-width="0.35" textLength="7.8" lengthAdjust="spacingAndGlyphs">116</text>
<ellipse cx="129.2" cy="132.9" rx="1.7" ry="2.7" fill="#303030"/>
<rect x="129.5" y="76.9" width="9.0" height="10" fill="#fff"/>
<text x="134.0" y="85.5" fill="#303030" stroke="#303030" stroke-width="0.35" textLength="7.8" lengthAdjust="spacingAndGlyphs">109</text>
<ellipse cx="134.0" cy="92.1" rx="1.7" ry="2.7" fill="#303030"/>
<rect x="134.2" y="107.5" width="9.0" height="10" fill="#fff"/>
<text x="138.7" y="116.1" fill="#303030" stroke="#303030" stroke-width="0.35" textLength="7.8" lengthAdjust="spacingAndGlyphs">111</text>
<ellipse cx="138.7" cy="122.7" rx="1.7" ry="2.7" fill="#303030"/>
<rect x="139.0" y="87.1" width="9.0" height="10" fill="#fff"/>
<text x="143.5" y="95.7" fill="#303030" stroke="#303030" stroke-width="0.35" textLength="7.8" lengthAdjust="spacingAndGlyphs">112</text>
<ellipse cx="143.5" cy="102.3" rx="1.7" ry="2.7" fill="#303030"/>
<rect x="143.8" y="97.3" width="9.0" height="10" fill="#fff"/>
<text x="148.3" y="105.9" fill="#303030" stroke="#303030" stroke-width="0.35" textLength="7.8" lengthAdjust="spacingAndGlyphs">123</text>
<ellipse cx="148.3" cy="112.5" rx="1.7" ry="2.7" fill="#303030"/>
<rect x="148.5" y="46.3" width="9.0" height="10" fill="#fff"/>
<text x="153.0" y="54.9" fill="#303030" stroke="#303030" stroke-width="0.35" textLength="7.8" lengthAdjust="spacingAndGlyphs">124</text>
<ellipse cx="153.0" cy="61.5" rx="1.7" ry="2.7" fill="#303030"/>
<rect x="153.3" y="76.9" width="9.0" height="10" fill="#fff"/>
<text x="157.8" y="85.5" fill="#303030" stroke="#303030" stroke-width="0.35" textLength="7.8" lengthAdjust="spacingAndGlyphs">103</text>
<ellipse cx="157.8" cy="92.1" rx="1.7" ry="2.7" fill="#303030"/>
<rect x="158.1" y="97.3" width="9.0" height="10" fill="#fff"/>
<text x="162.6" y="105.9" fill="#303030" stroke="#303030" stroke-width="0.35" textLength="7.8" lengthAdjust="spacingAndGlyphs">104</text>
<ellipse cx="162.6" cy="112.5" rx="1.7" ry="2.7" fill="#303030"/>
<rect x="162.8" y="107.5" width="9.0" height="10" fill="#fff"/>
<text x="167.3" y="116.1" fill="#303030" stroke="#303030" stroke-width="0.35" textLength="7.8" lengthAdjust="spacingAndGlyphs">105</text>
<ellipse cx="167.3" cy="122.7" rx="1.7" ry="2.7" fill="#303030"/>
<rect x="167.6" y="87.1" width="9.0" height="10" fill="#fff"/>
<text x="172.1" y="95.7" fill="#303030" stroke="#303030" stroke-width="0.35" textLength="7.8" lengthAdjust="spacingAndGlyphs">106</text>
<ellipse cx="172.1" cy="102.3" rx="1.7" ry="2.7" fill="#303030"/>
<rect x="173.6" y="127.9" width="6.4" height="10" fill="#fff"/>
<text x="176.8" y="136.5" fill="#a838e0" stroke="#a838e0" stroke-width="0.35" textLength="5.2" lengthAdjust="spacingAndGlyphs">63</text>
<ellipse cx="176.8" cy="143.1" rx="1.7" ry="2.7" fill="#a838e0"/>
<rect x="178.4" y="117.7" width="6.4" height="10" fill="#fff"/>
<text x="181.6" y="126.3" fill="#a838e0" stroke="#a838e0" stroke-width="0.35" textLength="5.2" lengthAdjust="spacingAndGlyphs">64</text>
<ellipse cx="181.6" cy="132.9" rx="1.7" ry="2.7" fill="#a838e0"/>
<rect x="183.2" y="148.3" width="6.4" height="10" fill="#fff"/>
<text x="186.4" y="156.9" fill="#2828ff" stroke="#2828ff" stroke-width="0.35" textLength="5.2" lengthAdjust="spacingAndGlyphs">39</text>
<ellipse cx="186.4" cy="163.5" rx="1.7" ry="2.7" fill="#2828ff"/>
<rect x="187.9" y="117.7" width="6.4" height="10" fill="#fff"/>
<text x="191.1" y="126.3" fill="#10f0f0" stroke="#10f0f0" stroke-width="0.35" textLength="5.2" lengthAdjust="spacingAndGlyphs">29</text>
<ellipse cx="191.1" cy="132.9" rx="1.7" ry="2.7" fill="#10f0f0"/>
<rect x="192.7" y="107.5" width="6.4" height="10" fill="#fff"/>
<text x="195.9" y="116.1" fill="#ff7a28" stroke="#ff7a28" stroke-width="0.35" textLength="5.2" lengthAdjust="spacingAndGlyphs">15</text>
<ellipse cx="195.9" cy="122.7" rx="1.7" ry="2.7" fill="#ff7a28"/>
<rect x="197.5" y="148.3" width="6.4" height="10" fill="#fff"/>
<text x="200.7" y="156.9" fill="#2828ff" stroke="#2828ff" stroke-width="0.35" textLength="5.2" lengthAdjust="spacingAndGlyphs">36</text>
<ellipse cx="200.7" cy="163.5" rx="1.7" ry="2.7" fill="#2828ff"/>
<rect x="202.2" y="168.7" width="6.4" height="10" fill="#fff"/>
<text x="205.4" y="177.3" fill="#ff7a28" stroke="#ff7a28" stroke-width="0.35" textLength="5.2" lengthAdjust="spacingAndGlyphs">12</text>
<ellipse cx="205.4" cy="183.9" rx="1.7" ry="2.7" fill="#ff7a28"/>
<rect x="207.0" y="168.7" width="6.4" height="10" fill="#fff"/>
<text x="210.2" y="177.3" fill="#ff7a28" stroke="#ff7a28" stroke-width="0.35" textLength="5.2" lengthAdjust="spacingAndGlyphs">13</text>
<ellipse cx="210.2" cy="183.9" rx="1.7" ry="2.7" fill="#ff7a28"/>
<rect x="211.8" y="148.3" width="6.4" height="10" fill="#fff"/>
<text x="215.0" y="156.9" fill="#2828ff" stroke="#2828ff" stroke-width="0.35" textLength="5.2" lengthAdjust="spacingAndGlyphs">44</text>
<ellipse cx="215.0" cy="163.5" rx="1.7" ry="2.7" fill="#2828ff"/>
<rect x="216.5" y="138.1" width="6.4" height="10" fill="#fff"/>
<text x="219.7" y="146.7" fill="#2828ff" stroke="#2828ff" stroke-width="0.35" textLength="5.2" lengthAdjust="spacingAndGlyphs">50</text>
<ellipse cx="219.7" cy="153.3" rx="1.7" ry="2.7" fill="#2828ff"/>
<rect x="222.6" y="138.1" width="3.8" height="10" fill="#fff"/>
<text x="224.5" y="146.7" fill="#10f0f0" stroke="#10f0f0" stroke-width="0.35" textLength="2.6" lengthAdjust="spacingAndGlyphs">4</text>
<ellipse cx="224.5" cy="153.3" rx="1.7" ry="2.7" fill="#10f0f0"/>
<rect x="226.1" y="148.3" width="6.4" height="10" fill="#fff"/>
<text x="229.3" y="156.9" fill="#2828ff" stroke="#2828ff" stroke-width="0.35" textLength="5.2" lengthAdjust="spacingAndGlyphs">35</text>
<ellipse cx="229.3" cy="163.5" rx="1.7" ry="2.7" fill="#2828ff"/>
<rect x="230.8" y="168.7" width="6.4" height="10" fill="#fff"/>
<text x="234.0" y="177.3" fill="#2828ff" stroke="#2828ff" stroke-width="0.35" textLength="5.2" lengthAdjust="spacingAndGlyphs">33</text>
<ellipse cx="234.0" cy="183.9" rx="1.7" ry="2.7" fill="#2828ff"/>
<rect x="235.6" y="158.5" width="6.4" height="10" fill="#fff"/>
<text x="238.8" y="167.1" fill="#f02020" stroke="#f02020" stroke-width="0.35" textLength="5.2" lengthAdjust="spacingAndGlyphs">89</text>
<ellipse cx="238.8" cy="173.7" rx="1.7" ry="2.7" fill="#f02020"/>
<rect x="240.4" y="107.5" width="6.4" height="10" fill="#fff"/>
<text x="243.6" y="116.1" fill="#10f0f0" stroke="#10f0f0" stroke-width="0.35" textLength="5.2" lengthAdjust="spacingAndGlyphs">23</text>
<ellipse cx="243.6" cy="122.7" rx="1.7" ry="2.7" fill="#10f0f0"/>
<rect x="245.1" y="66.7" width="6.4" height="10" fill="#fff"/>
<text x="248.3" y="75.3" fill="#10f0f0" stroke="#10f0f0" stroke-width="0.35" textLength="5.2" lengthAdjust="spacingAndGlyphs">30</text>
<ellipse cx="248.3" cy="81.9" rx="1.7" ry="2.7" fill="#10f0f0"/>
<rect x="249.9" y="127.9" width="6.4" height="10" fill="#fff"/>
<text x="253.1" y="136.5" fill="#f02020" stroke="#f02020" stroke-width="0.35" textLength="5.2" lengthAdjust="spacingAndGlyphs">54</text>
<ellipse cx="253.1" cy="143.1" rx="1.7" ry="2.7" fill="#f02020"/>
<rect x="254.7" y="87.1" width="6.4" height="10" fill="#fff"/>
<text x="257.9" y="95.7" fill="#30f030" stroke="#30f030" stroke-width="0.35" textLength="5.2" lengthAdjust="spacingAndGlyphs">10</text>
<ellipse cx="257.9" cy="102.3" rx="1.7" ry="2.7" fill="#30f030"/>
<rect x="259.4" y="107.5" width="6.4" height="10" fill="#fff"/>
<text x="262.6" y="116.1" fill="#a838e0" stroke="#a838e0" stroke-width="0.35" textLength="5.2" lengthAdjust="spacingAndGlyphs">61</text>
<ellipse cx="262.6" cy="122.7" rx="1.7" ry="2.7" fill="#a838e0"/>
<rect x="262.9" y="87.1" width="9.0" height="10" fill="#fff"/>
<text x="267.4" y="95.7" fill="#303030" stroke="#303030" stroke-width="0.35" textLength="7.8" lengthAdjust="spacingAndGlyphs">115</text>
<ellipse cx="267.4" cy="102.3" rx="1.7" ry="2.7" fill="#303030"/>
<rect x="270.3" y="97.3" width="3.8" height="10" fill="#fff"/>
<text x="272.2" y="105.9" fill="#30f030" stroke="#30f030" stroke-width="0.35" textLength="2.6" lengthAdjust="spacingAndGlyphs">1</text>
<ellipse cx="272.2" cy="112.5" rx="1.7" ry="2.7" fill="#30f030"/>
<rect x="273.7" y="117.7" width="6.4" height="10" fill="#fff"/>
<text x="276.9" y="126.3" fill="#ff7a28" stroke="#ff7a28" stroke-width="0.35" textLength="5.2" lengthAdjust="spacingAndGlyphs">11</text>
<ellipse cx="276.9" cy="132.9" rx="1.7" ry="2.7" fill="#ff7a28"/>
<rect x="278.5" y="107.5" width="6.4" height="10" fill="#fff"/>
<text x="281.7" y="116.1" fill="#2828ff" stroke="#2828ff" stroke-width="0.35" textLength="5.2" lengthAdjust="spacingAndGlyphs">31</text>
<ellipse cx="281.7" cy="122.7" rx="1.7" ry="2.7" fill="#2828ff"/>
<rect x="282.0" y="168.7" width="9.0" height="10" fill="#fff"/>
<text x="286.5" y="177.3" fill="#303030" stroke="#303030" stroke-width="0.35" textLength="7.8" lengthAdjust="spacingAndGlyphs">122</text>
<ellipse cx="286.5" cy="183.9" rx="1.7" ry="2.7" fill="#303030"/>
<rect x="289.3" y="178.9" width="3.8" height="10" fill="#fff"/>
<text x="291.2" y="187.5" fill="#30f030" stroke="#30f030" stroke-width="0.35" textLength="2.6" lengthAdjust="spacingAndGlyphs">3</text>
<ellipse cx="291.2" cy="194.1" rx="1.7" ry="2.7" fill="#30f030"/>
<rect x="292.8" y="138.1" width="6.4" height="10" fill="#fff"/>
<text x="296.0" y="146.7" fill="#2828ff" stroke="#2828ff" stroke-width="0.35" textLength="5.2" lengthAdjust="spacingAndGlyphs">40</text>
<ellipse cx="296.0" cy="153.3" rx="1.7" ry="2.7" fill="#2828ff"/>
<rect x="296.3" y="148.3" width="9.0" height="10" fill="#fff"/>
<text x="300.8" y="156.9" fill="#303030" stroke="#303030" stroke-width="0.35" textLength="7.8" lengthAdjust="spacingAndGlyphs">121</text>
<ellipse cx="300.8" cy="163.5" rx="1.7" ry="2.7" fill="#303030"/>
<rect x="303.6" y="148.3" width="3.8" height="10" fill="#fff"/>
<text x="305.5" y="156.9" fill="#303030" stroke="#303030" stroke-width="0.35" textLength="2.6" lengthAdjust="spacingAndGlyphs">8</text>
<ellipse cx="305.5" cy="163.5" rx="1.7" ry="2.7" fill="#303030"/>
<ellipse cx="310.3" cy="163.5" rx="1.7" ry="2.7" fill="#303030"/>
<rect x="310.6" y="148.3" width="9.0" height="10" fill="#fff"/>
<text x="315.1" y="156.9" fill="#303030" stroke="#303030" stroke-width="0.35" textLength="7.8" lengthAdjust="spacingAndGlyphs">119</text>
<ellipse cx="315.1" cy="163.5" rx="1.7" ry="2.7" fill="#303030"/>
<rect x="317.9" y="117.7" width="3.8" height="10" fill="#fff"/>
<text x="319.8" y="126.3" fill="#30f030" stroke="#30f030" stroke-width="0.35" textLength="2.6" lengthAdjust="spacingAndGlyphs">5</text>
<ellipse cx="319.8" cy="132.9" rx="1.7" ry="2.7" fill="#30f030"/>
<rect x="320.1" y="148.3" width="9.0" height="10" fill="#fff"/>
<text x="324.6" y="156.9" fill="#303030" stroke="#303030" stroke-width="0.35" textLength="7.8" lengthAdjust="spacingAndGlyphs">120</text>
<ellipse cx="324.6" cy="163.5" rx="1.7" ry="2.7" fill="#303030"/>
<rect x="324.9" y="127.9" width="9.0" height="10" fill="#fff"/>
<text x="329.4" y="136.5" fill="#303030" stroke="#303030" stroke-width="0.35" textLength="7.8" lengthAdjust="spacingAndGlyphs">107</text>
<ellipse cx="329.4" cy="143.1" rx="1.7" ry="2.7" fill="#303030"/>
<rect x="329.6" y="148.3" width="9.0" height="10" fill="#fff"/>
<text x="334.1" y="156.9" fill="#303030" stroke="#303030" stroke-width="0.35" textLength="7.8" lengthAdjust="spacingAndGlyphs">108</text>
<ellipse cx="334.1" cy="163.5" rx="1.7" ry="2.7" fill="#303030"/>
<rect x="337.0" y="158.5" width="3.8" height="10" fill="#fff"/>
<text x="338.9" y="167.1" fill="#30f030" stroke="#30f030" stroke-width="0.35" textLength="2.6" lengthAdjust="spacingAndGlyphs">4</text>
<ellipse cx="338.9" cy="173.7" rx="1.7" ry="2.7" fill="#30f030"/>
<rect x="340.5" y="189.1" width="6.4" height="10" fill="#fff"/>
<text x="343.7" y="197.7" fill="#a838e0" stroke="#a838e0" stroke-width="0.35" textLength="5.2" lengthAdjust="spacingAndGlyphs">67</text>
<ellipse cx="343.7" cy="204.3" rx="1.7" ry="2.7" fill="#a838e0"/>
<rect x="346.5" y="148.3" width="3.8" height="10" fill="#fff"/>
<text x="348.4" y="156.9" fill="#30f030" stroke="#30f030" stroke-width="0.35" textLength="2.6" lengthAdjust="spacingAndGlyphs">9</text>
<ellipse cx="348.4" cy="163.5" rx="1.7" ry="2.7" fill="#30f030"/>
<rect x="350.0" y="148.3" width="6.4" height="10" fill="#fff"/>
<text x="353.2" y="156.9" fill="#2828ff" stroke="#2828ff" stroke-width="0.35" textLength="5.2" lengthAdjust="spacingAndGlyphs">43</text>
<ellipse cx="353.2" cy="163.5" rx="1.7" ry="2.7" fill="#2828ff"/>
<rect x="356.1" y="148.3" width="3.8" height="10" fill="#fff"/>
<text x="358.0" y="156.9" fill="#10f0f0" stroke="#10f0f0" stroke-width="0.35" textLength="2.6" lengthAdjust="spacingAndGlyphs">7</text>
<ellipse cx="358.0" cy="163.5" rx="1.7" ry="2.7" fill="#10f0f0"/>
<rect x="359.5" y="117.7" width="6.4" height="10" fill="#fff"/>
<text x="362.7" y="126.3" fill="#10f0f0" stroke="#10f0f0" stroke-width="0.35" textLength="5.2" lengthAdjust="spacingAndGlyphs">20</text>
<ellipse cx="362.7" cy="132.9" rx="1.7" ry="2.7" fill="#10f0f0"/>
<rect x="364.3" y="148.3" width="6.4" height="10" fill="#fff"/>
<text x="367.5" y="156.9" fill="#a838e0" stroke="#a838e0" stroke-width="0.35" textLength="5.2" lengthAdjust="spacingAndGlyphs">70</text>
<ellipse cx="367.5" cy="163.5" rx="1.7" ry="2.7" fill="#a838e0"/>
<rect x="369.1" y="107.5" width="6.4" height="10" fill="#fff"/>
<text x="372.3" y="116.1" fill="#f02020" stroke="#f02020" stroke-width="0.35" textLength="5.2" lengthAdjust="spacingAndGlyphs">97</text>
<ellipse cx="372.3" cy="122.7" rx="1.7" ry="2.7" fill="#f02020"/>
<rect x="373.8" y="178.9" width="6.4" height="10" fill="#fff"/>
<text x="377.0" y="187.5" fill="#ff7a28" stroke="#ff7a28" stroke-width="0.35" textLength="5.2" lengthAdjust="spacingAndGlyphs">17</text>
<ellipse cx="377.0" cy="194.1" rx="1.7" ry="2.7" fill="#ff7a28"/>
<rect x="378.6" y="178.9" width="6.4" height="10" fill="#fff"/>
<text x="381.8" y="187.5" fill="#ff7a28" stroke="#ff7a28" stroke-width="0.35" textLength="5.2" lengthAdjust="spacingAndGlyphs">18</text>
<ellipse cx="381.8" cy="194.1" rx="1.7" ry="2.7" fill="#ff7a28"/>
<rect x="383.4" y="138.1" width="6.4" height="10" fill="#fff"/>
<text x="386.6" y="146.7" fill="#ff7a28" stroke="#ff7a28" stroke-width="0.35" textLength="5.2" lengthAdjust="spacingAndGlyphs">19</text>
<ellipse cx="386.6" cy="153.3" rx="1.7" ry="2.7" fill="#ff7a28"/>
<rect x="388.1" y="178.9" width="6.4" height="10" fill="#fff"/>
<text x="391.3" y="187.5" fill="#f02020" stroke="#f02020" stroke-width="0.35" textLength="5.2" lengthAdjust="spacingAndGlyphs">96</text>
<ellipse cx="391.3" cy="194.1" rx="1.7" ry="2.7" fill="#f02020"/>
<rect x="394.2" y="178.9" width="3.8" height="10" fill="#fff"/>
<text x="396.1" y="187.5" fill="#a838e0" stroke="#a838e0" stroke-width="0.35" textLength="2.6" lengthAdjust="spacingAndGlyphs">5</text>
<ellipse cx="396.1" cy="194.1" rx="1.7" ry="2.7" fill="#a838e0"/>
<rect x="397.6" y="189.1" width="6.4" height="10" fill="#fff"/>
<text x="400.8" y="197.7" fill="#f02020" stroke="#f02020" stroke-width="0.35" textLength="5.2" lengthAdjust="spacingAndGlyphs">90</text>
<ellipse cx="400.8" cy="204.3" rx="1.7" ry="2.7" fill="#f02020"/>
<rect x="403.7" y="148.3" width="3.8" height="10" fill="#fff"/>
<text x="405.6" y="156.9" fill="#b4aa38" stroke="#b4aa38" stroke-width="0.35" textLength="2.6" lengthAdjust="spacingAndGlyphs">5</text>
<ellipse cx="405.6" cy="163.5" rx="1.7" ry="2.7" fill="#b4aa38"/>
<rect x="407.2" y="148.3" width="6.4" height="10" fill="#fff"/>
<text x="410.4" y="156.9" fill="#f02020" stroke="#f02020" stroke-width="0.35" textLength="5.2" lengthAdjust="spacingAndGlyphs">87</text>
<ellipse cx="410.4" cy="163.5" rx="1.7" ry="2.7" fill="#f02020"/>
<rect x="411.9" y="158.5" width="6.4" height="10" fill="#fff"/>
<text x="415.1" y="167.1" fill="#2828ff" stroke="#2828ff" stroke-width="0.35" textLength="5.2" lengthAdjust="spacingAndGlyphs">34</text>
<ellipse cx="415.1" cy="173.7" rx="1.7" ry="2.7" fill="#2828ff"/>
<rect x="416.7" y="158.5" width="6.4" height="10" fill="#fff"/>
<text x="419.9" y="167.1" fill="#a838e0" stroke="#a838e0" stroke-width="0.35" textLength="5.2" lengthAdjust="spacingAndGlyphs">66</text>
<ellipse cx="419.9" cy="173.7" rx="1.7" ry="2.7" fill="#a838e0"/>
<rect x="421.5" y="127.9" width="6.4" height="10" fill="#fff"/>
<text x="424.7" y="136.5" fill="#ff7a28" stroke="#ff7a28" stroke-width="0.35" textLength="5.2" lengthAdjust="spacingAndGlyphs">14</text>
<ellipse cx="424.7" cy="143.1" rx="1.7" ry="2.7" fill="#ff7a28"/>
<rect x="426.2" y="127.9" width="6.4" height="10" fill="#fff"/>
<text x="429.4" y="136.5" fill="#a838e0" stroke="#a838e0" stroke-width="0.35" textLength="5.2" lengthAdjust="spacingAndGlyphs">62</text>
<ellipse cx="429.4" cy="143.1" rx="1.7" ry="2.7" fill="#a838e0"/>
<rect x="432.3" y="107.5" width="3.8" height="10" fill="#fff"/>
<text x="434.2" y="116.1" fill="#30f030" stroke="#30f030" stroke-width="0.35" textLength="2.6" lengthAdjust="spacingAndGlyphs">7</text>
<ellipse cx="434.2" cy="122.7" rx="1.7" ry="2.7" fill="#30f030"/>
<rect x="435.8" y="158.5" width="6.4" height="10" fill="#fff"/>
<text x="439.0" y="167.1" fill="#b4aa38" stroke="#b4aa38" stroke-width="0.35" textLength="5.2" lengthAdjust="spacingAndGlyphs">60</text>
<ellipse cx="439.0" cy="173.7" rx="1.7" ry="2.7" fill="#b4aa38"/>
<rect x="440.5" y="127.9" width="6.4" height="10" fill="#fff"/>
<text x="443.7" y="136.5" fill="#ff38ff" stroke="#ff38ff" stroke-width="0.35" textLength="5.2" lengthAdjust="spacingAndGlyphs">80</text>
<ellipse cx="443.7" cy="143.1" rx="1.7" ry="2.7" fill="#ff38ff"/>
<rect x="445.3" y="107.5" width="6.4" height="10" fill="#fff"/>
<text x="448.5" y="116.1" fill="#b4aa38" stroke="#b4aa38" stroke-width="0.35" textLength="5.2" lengthAdjust="spacingAndGlyphs">58</text>
<ellipse cx="448.5" cy="122.7" rx="1.7" ry="2.7" fill="#b4aa38"/>
<rect x="450.1" y="127.9" width="6.4" height="10" fill="#fff"/>
<text x="453.3" y="136.5" fill="#f02020" stroke="#f02020" stroke-width="0.35" textLength="5.2" lengthAdjust="spacingAndGlyphs">86</text>
<ellipse cx="453.3" cy="143.1" rx="1.7" ry="2.7" fill="#f02020"/>
<rect x="454.8" y="97.3" width="6.4" height="10" fill="#fff"/>
<text x="458.0" y="105.9" fill="#b4aa38" stroke="#b4aa38" stroke-width="0.35" textLength="5.2" lengthAdjust="spacingAndGlyphs">57</text>
<ellipse cx="458.0" cy="112.5" rx="1.7" ry="2.7" fill="#b4aa38"/>
<rect x="459.6" y="66.7" width="6.4" height="10" fill="#fff"/>
<text x="462.8" y="75.3" fill="#ff38ff" stroke="#ff38ff" stroke-width="0.35" textLength="5.2" lengthAdjust="spacingAndGlyphs">73</text>
<ellipse cx="462.8" cy="81.9" rx="1.7" ry="2.7" fill="#ff38ff"/>
<rect x="464.4" y="56.5" width="6.4" height="10" fill="#fff"/>
<text x="467.6" y="65.1" fill="#f02020" stroke="#f02020" stroke-width="0.35" textLength="5.2" lengthAdjust="spacingAndGlyphs">85</text>
<ellipse cx="467.6" cy="71.7" rx="1.7" ry="2.7" fill="#f02020"/>
<rect x="469.1" y="76.9" width="6.4" height="10" fill="#fff"/>
<text x="472.3" y="85.5" fill="#b4aa38" stroke="#b4aa38" stroke-width="0.35" textLength="5.2" lengthAdjust="spacingAndGlyphs">55</text>
<ellipse cx="472.3" cy="92.1" rx="1.7" ry="2.7" fill="#b4aa38"/>
<rect x="473.9" y="117.7" width="6.4" height="10" fill="#fff"/>
<text x="477.1" y="126.3" fill="#b4aa38" stroke="#b4aa38" stroke-width="0.35" textLength="5.2" lengthAdjust="spacingAndGlyphs">56</text>
<ellipse cx="477.1" cy="132.9" rx="1.7" ry="2.7" fill="#b4aa38"/>
<rect x="478.7" y="66.7" width="6.4" height="10" fill="#fff"/>
<text x="481.9" y="75.3" fill="#ff38ff" stroke="#ff38ff" stroke-width="0.35" textLength="5.2" lengthAdjust="spacingAndGlyphs">72</text>
<ellipse cx="481.9" cy="81.9" rx="1.7" ry="2.7" fill="#ff38ff"/>
<rect x="483.4" y="107.5" width="6.4" height="10" fill="#fff"/>
<text x="486.6" y="116.1" fill="#b4aa38" stroke="#b4aa38" stroke-width="0.35" textLength="5.2" lengthAdjust="spacingAndGlyphs">53</text>
<ellipse cx="486.6" cy="122.7" rx="1.7" ry="2.7" fill="#b4aa38"/>
<rect x="488.2" y="127.9" width="6.4" height="10" fill="#fff"/>
<text x="491.4" y="136.5" fill="#b4aa38" stroke="#b4aa38" stroke-width="0.35" textLength="5.2" lengthAdjust="spacingAndGlyphs">54</text>
<ellipse cx="491.4" cy="143.1" rx="1.7" ry="2.7" fill="#b4aa38"/>
<rect x="493.0" y="107.5" width="6.4" height="10" fill="#fff"/>
<text x="496.2" y="116.1" fill="#b4aa38" stroke="#b4aa38" stroke-width="0.35" textLength="5.2" lengthAdjust="spacingAndGlyphs">52</text>
<ellipse cx="496.2" cy="122.7" rx="1.7" ry="2.7" fill="#b4aa38"/>
<rect x="497.7" y="117.7" width="6.4" height="10" fill="#fff"/>
<text x="500.9" y="126.3" fill="#f02020" stroke="#f02020" stroke-width="0.35" textLength="5.2" lengthAdjust="spacingAndGlyphs">83</text>
<ellipse cx="500.9" cy="132.9" rx="1.7" ry="2.7" fill="#f02020"/>
<rect x="501.2" y="66.7" width="9.0" height="10" fill="#fff"/>
<text x="505.7" y="75.3" fill="#f02020" stroke="#f02020" stroke-width="0.35" textLength="7.8" lengthAdjust="spacingAndGlyphs">102</text>
<ellipse cx="505.7" cy="81.9" rx="1.7" ry="2.7" fill="#f02020"/>
<rect x="507.3" y="117.7" width="6.4" height="10" fill="#fff"/>
<text x="510.5" y="126.3" fill="#f02020" stroke="#f02020" stroke-width="0.35" textLength="5.2" lengthAdjust="spacingAndGlyphs">82</text>
<ellipse cx="510.5" cy="132.9" rx="1.7" ry="2.7" fill="#f02020"/>
<rect x="512.0" y="107.5" width="6.4" height="10" fill="#fff"/>
<text x="515.2" y="116.1" fill="#ff38ff" stroke="#ff38ff" stroke-width="0.35" textLength="5.2" lengthAdjust="spacingAndGlyphs">79</text>
<ellipse cx="515.2" cy="122.7" rx="1.7" ry="2.7" fill="#ff38ff"/>
<rect x="516.8" y="127.9" width="6.4" height="10" fill="#fff"/>
<text x="520.0" y="136.5" fill="#f02020" stroke="#f02020" stroke-width="0.35" textLength="5.2" lengthAdjust="spacingAndGlyphs">92</text>
<ellipse cx="520.0" cy="143.1" rx="1.7" ry="2.7" fill="#f02020"/>
<rect x="521.6" y="148.3" width="6.4" height="10" fill="#fff"/>
<text x="524.8" y="156.9" fill="#ff7a28" stroke="#ff7a28" stroke-width="0.35" textLength="5.2" lengthAdjust="spacingAndGlyphs">20</text>
<ellipse cx="524.8" cy="163.5" rx="1.7" ry="2.7" fill="#ff7a28"/>
<rect x="527.6" y="158.5" width="3.8" height="10" fill="#fff"/>
<text x="529.5" y="167.1" fill="#10f0f0" stroke="#10f0f0" stroke-width="0.35" textLength="2.6" lengthAdjust="spacingAndGlyphs">2</text>
<ellipse cx="529.5" cy="173.7" rx="1.7" ry="2.7" fill="#10f0f0"/>
<rect x="531.1" y="158.5" width="6.4" height="10" fill="#fff"/>
<text x="534.3" y="167.1" fill="#10f0f0" stroke="#10f0f0" stroke-width="0.35" textLength="5.2" lengthAdjust="spacingAndGlyphs">25</text>
<ellipse cx="534.3" cy="173.7" rx="1.7" ry="2.7" fill="#10f0f0"/>
<rect x="535.9" y="168.7" width="6.4" height="10" fill="#fff"/>
<text x="539.1" y="177.3" fill="#f02020" stroke="#f02020" stroke-width="0.35" textLength="5.2" lengthAdjust="spacingAndGlyphs">84</text>
<ellipse cx="539.1" cy="183.9" rx="1.7" ry="2.7" fill="#f02020"/>
<rect x="540.6" y="138.1" width="6.4" height="10" fill="#fff"/>
<text x="543.8" y="146.7" fill="#2828ff" stroke="#2828ff" stroke-width="0.35" textLength="5.2" lengthAdjust="spacingAndGlyphs">34</text>
<ellipse cx="543.8" cy="153.3" rx="1.7" ry="2.7" fill="#2828ff"/>
<rect x="545.4" y="148.3" width="6.4" height="10" fill="#fff"/>
<text x="548.6" y="156.9" fill="#b4aa38" stroke="#b4aa38" stroke-width="0.35" textLength="5.2" lengthAdjust="spacingAndGlyphs">59</text>
<ellipse cx="548.6" cy="163.5" rx="1.7" ry="2.7" fill="#b4aa38"/>
<rect x="550.2" y="168.7" width="6.4" height="10" fill="#fff"/>
<text x="553.4" y="177.3" fill="#ff38ff" stroke="#ff38ff" stroke-width="0.35" textLength="5.2" lengthAdjust="spacingAndGlyphs">74</text>
<ellipse cx="553.4" cy="183.9" rx="1.7" ry="2.7" fill="#ff38ff"/>
<rect x="554.9" y="148.3" width="6.4" height="10" fill="#fff"/>
<text x="558.1" y="156.9" fill="#ff38ff" stroke="#ff38ff" stroke-width="0.35" textLength="5.2" lengthAdjust="spacingAndGlyphs">81</text>
<ellipse cx="558.1" cy="163.5" rx="1.7" ry="2.7" fill="#ff38ff"/>
<rect x="559.7" y="138.1" width="6.4" height="10" fill="#fff"/>
<text x="562.9" y="146.7" fill="#f02020" stroke="#f02020" stroke-width="0.35" textLength="5.2" lengthAdjust="spacingAndGlyphs">88</text>
<ellipse cx="562.9" cy="153.3" rx="1.7" ry="2.7" fill="#f02020"/>
<rect x="564.5" y="168.7" width="6.4" height="10" fill="#fff"/>
<text x="567.7" y="177.3" fill="#a838e0" stroke="#a838e0" stroke-width="0.35" textLength="5.2" lengthAdjust="spacingAndGlyphs">69</text>
<ellipse cx="567.7" cy="183.9" rx="1.7" ry="2.7" fill="#a838e0"/>
<rect x="569.2" y="87.1" width="6.4" height="10" fill="#fff"/>
<text x="572.4" y="95.7" fill="#a838e0" stroke="#a838e0" stroke-width="0.35" textLength="5.2" lengthAdjust="spacingAndGlyphs">62</text>
<ellipse cx="572.4" cy="102.3" rx="1.7" ry="2.7" fill="#a838e0"/>
<rect x="574.0" y="127.9" width="6.4" height="10" fill="#fff"/>
<text x="577.2" y="136.5" fill="#ff38ff" stroke="#ff38ff" stroke-width="0.35" textLength="5.2" lengthAdjust="spacingAndGlyphs">78</text>
<ellipse cx="577.2" cy="143.1" rx="1.7" ry="2.7" fill="#ff38ff"/>
<rect x="578.8" y="138.1" width="6.4" height="10" fill="#fff"/>
<text x="582.0" y="146.7" fill="#a838e0" stroke="#a838e0" stroke-width="0.35" textLength="5.2" lengthAdjust="spacingAndGlyphs">71</text>
<ellipse cx="582.0" cy="153.3" rx="1.7" ry="2.7" fill="#a838e0"/>
<rect x="583.5" y="127.9" width="6.4" height="10" fill="#fff"/>
<text x="586.7" y="136.5" fill="#f02020" stroke="#f02020" stroke-width="0.35" textLength="5.2" lengthAdjust="spacingAndGlyphs">93</text>
<ellipse cx="586.7" cy="143.1" rx="1.7" ry="2.7" fill="#f02020"/>
<rect x="589.6" y="107.5" width="3.8" height="10" fill="#fff"/>
<text x="591.5" y="116.1" fill="#ff38ff" stroke="#ff38ff" stroke-width="0.35" textLength="2.6" lengthAdjust="spacingAndGlyphs">7</text>
<ellipse cx="591.5" cy="122.7" rx="1.7" ry="2.7" fill="#ff38ff"/>
<rect x="591.8" y="107.5" width="9.0" height="10" fill="#fff"/>
<text x="596.3" y="116.1" fill="#303030" stroke="#303030" stroke-width="0.35" textLength="7.8" lengthAdjust="spacingAndGlyphs">113</text>
<ellipse cx="596.3" cy="122.7" rx="1.7" ry="2.7" fill="#303030"/>
<rect x="596.5" y="76.9" width="9.0" height="10" fill="#fff"/>
<text x="601.0" y="85.5" fill="#303030" stroke="#303030" stroke-width="0.35" textLength="7.8" lengthAdjust="spacingAndGlyphs">114</text>
<ellipse cx="601.0" cy="92.1" rx="1.7" ry="2.7" fill="#303030"/>
<rect x="602.6" y="107.5" width="6.4" height="10" fill="#fff"/>
<text x="605.8" y="116.1" fill="#ff7a28" stroke="#ff7a28" stroke-width="0.35" textLength="5.2" lengthAdjust="spacingAndGlyphs">16</text>
<ellipse cx="605.8" cy="122.7" rx="1.7" ry="2.7" fill="#ff7a28"/>
<rect x="607.4" y="76.9" width="6.4" height="10" fill="#fff"/>
<text x="610.6" y="85.5" fill="#2828ff" stroke="#2828ff" stroke-width="0.35" textLength="5.2" lengthAdjust="spacingAndGlyphs">37</text>
<ellipse cx="610.6" cy="92.1" rx="1.7" ry="2.7" fill="#2828ff"/>
<rect x="612.1" y="178.9" width="6.4" height="10" fill="#fff"/>
<text x="615.3" y="187.5" fill="#10f0f0" stroke="#10f0f0" stroke-width="0.35" textLength="5.2" lengthAdjust="spacingAndGlyphs">26</text>
<ellipse cx="615.3" cy="194.1" rx="1.7" ry="2.7" fill="#10f0f0"/>
<rect x="616.9" y="117.7" width="6.4" height="10" fill="#fff"/>
<text x="620.1" y="126.3" fill="#f02020" stroke="#f02020" stroke-width="0.35" textLength="5.2" lengthAdjust="spacingAndGlyphs">91</text>
<ellipse cx="620.1" cy="132.9" rx="1.7" ry="2.7" fill="#f02020"/>
<rect x="621.7" y="46.3" width="6.4" height="10" fill="#fff"/>
<text x="624.9" y="54.9" fill="#ff38ff" stroke="#ff38ff" stroke-width="0.35" textLength="5.2" lengthAdjust="spacingAndGlyphs">76</text>
<ellipse cx="624.9" cy="61.5" rx="1.7" ry="2.7" fill="#ff38ff"/>
<rect x="626.4" y="107.5" width="6.4" height="10" fill="#fff"/>
<text x="629.6" y="116.1" fill="#ff38ff" stroke="#ff38ff" stroke-width="0.35" textLength="5.2" lengthAdjust="spacingAndGlyphs">77</text>
<ellipse cx="629.6" cy="122.7" rx="1.7" ry="2.7" fill="#ff38ff"/>
</g>
<g font-family="Liberation Sans, sans-serif" font-size="10.5" text-anchor="middle">
<rect x="42.3" y="415.0" width="7" height="14" fill="#fff"/>
<text x="45.8" y="427.3" fill="#3838ff" stroke="#3838ff" stroke-width="0.3" textLength="5.8" lengthAdjust="spacingAndGlyphs">36</text>
<rect x="51.7" y="410.0" width="7" height="14" fill="#fff"/>
<text x="55.2" y="422.3" fill="#3838ff" stroke="#3838ff" stroke-width="0.3" textLength="5.8" lengthAdjust="spacingAndGlyphs">33</text>
<rect x="61.2" y="410.0" width="7" height="14" fill="#fff"/>
<text x="64.7" y="422.3" fill="#3838ff" stroke="#3838ff" stroke-width="0.3" textLength="5.8" lengthAdjust="spacingAndGlyphs">35</text>
<rect x="80.5" y="314.0" width="7" height="14" fill="#fff"/>
<text x="84.0" y="326.3" fill="#3838ff" stroke="#3838ff" stroke-width="0.3" textLength="5.8" lengthAdjust="spacingAndGlyphs">39</text>
<rect x="76.8" y="354.0" width="7" height="14" fill="#fff"/>
<text x="80.3" y="366.3" fill="#3838ff" stroke="#3838ff" stroke-width="0.3" textLength="5.8" lengthAdjust="spacingAndGlyphs">45</text>
<rect x="137.7" y="303.0" width="7" height="14" fill="#fff"/>
<text x="141.2" y="315.3" fill="#3838ff" stroke="#3838ff" stroke-width="0.3" textLength="5.8" lengthAdjust="spacingAndGlyphs">85</text>
<rect x="146.9" y="292.0" width="7" height="14" fill="#fff"/>
<text x="150.4" y="304.3" fill="#3838ff" stroke="#3838ff" stroke-width="0.3" textLength="5.8" lengthAdjust="spacingAndGlyphs">80</text>
<rect x="166.1" y="278.0" width="7" height="14" fill="#fff"/>
<text x="169.6" y="290.3" fill="#3838ff" stroke="#3838ff" stroke-width="0.3" textLength="5.8" lengthAdjust="spacingAndGlyphs">50</text>
<rect x="161.3" y="339.0" width="7" height="14" fill="#fff"/>
<text x="164.8" y="351.3" fill="#3838ff" stroke="#3838ff" stroke-width="0.3" textLength="5.8" lengthAdjust="spacingAndGlyphs">54</text>
<rect x="134.2" y="399.0" width="7" height="14" fill="#fff"/>
<text x="137.7" y="411.3" fill="#3838ff" stroke="#3838ff" stroke-width="0.3" textLength="5.8" lengthAdjust="spacingAndGlyphs">47</text>
<rect x="154.1" y="415.5" width="7" height="14" fill="#fff"/>
<text x="157.6" y="427.8" fill="#3838ff" stroke="#3838ff" stroke-width="0.3" textLength="5.8" lengthAdjust="spacingAndGlyphs">35</text>
<rect x="156.4" y="246.7" width="7" height="14" fill="#fff"/>
<text x="159.9" y="259.0" fill="#3838ff" stroke="#3838ff" stroke-width="0.3" textLength="5.8" lengthAdjust="spacingAndGlyphs">74</text>
<rect x="309.2" y="302.0" width="7" height="14" fill="#fff"/>
<text x="312.7" y="314.3" fill="#3838ff" stroke="#3838ff" stroke-width="0.3" textLength="5.8" lengthAdjust="spacingAndGlyphs">71</text>
<rect x="328.1" y="308.0" width="7" height="14" fill="#fff"/>
<text x="331.6" y="320.3" fill="#3838ff" stroke="#3838ff" stroke-width="0.3" textLength="5.8" lengthAdjust="spacingAndGlyphs">43</text>
<rect x="324.5" y="354.0" width="7" height="14" fill="#fff"/>
<text x="328.0" y="366.3" fill="#3838ff" stroke="#3838ff" stroke-width="0.3" textLength="5.8" lengthAdjust="spacingAndGlyphs">35</text>
<rect x="242.5" y="416.0" width="7" height="14" fill="#fff"/>
<text x="246.0" y="428.3" fill="#3838ff" stroke="#3838ff" stroke-width="0.3" textLength="5.8" lengthAdjust="spacingAndGlyphs">35</text>
<rect x="256.7" y="399.0" width="7" height="14" fill="#fff"/>
<text x="260.2" y="411.3" fill="#3838ff" stroke="#3838ff" stroke-width="0.3" textLength="5.8" lengthAdjust="spacingAndGlyphs">42</text>
<rect x="275.9" y="364.0" width="7" height="14" fill="#fff"/>
<text x="279.4" y="376.3" fill="#3838ff" stroke="#3838ff" stroke-width="0.3" textLength="5.8" lengthAdjust="spacingAndGlyphs">30</text>
<rect x="290.3" y="421.0" width="7" height="14" fill="#fff"/>
<text x="293.8" y="433.3" fill="#3838ff" stroke="#3838ff" stroke-width="0.3" textLength="5.8" lengthAdjust="spacingAndGlyphs">46</text>
<rect x="357.0" y="420.0" width="7" height="14" fill="#fff"/>
<text x="360.5" y="432.3" fill="#3838ff" stroke="#3838ff" stroke-width="0.3" textLength="5.8" lengthAdjust="spacingAndGlyphs">35</text>
<rect x="366.5" y="389.0" width="7" height="14" fill="#fff"/>
<text x="370.0" y="401.3" fill="#3838ff" stroke="#3838ff" stroke-width="0.3" textLength="5.8" lengthAdjust="spacingAndGlyphs">53</text>
<rect x="380.8" y="394.0" width="7" height="14" fill="#fff"/>
<text x="384.3" y="406.3" fill="#3838ff" stroke="#3838ff" stroke-width="0.3" textLength="5.8" lengthAdjust="spacingAndGlyphs">40</text>
<rect x="395.1" y="399.5" width="7" height="14" fill="#fff"/>
<text x="398.6" y="411.8" fill="#3838ff" stroke="#3838ff" stroke-width="0.3" textLength="5.8" lengthAdjust="spacingAndGlyphs">41</text>
<rect x="423.7" y="414.0" width="7" height="14" fill="#fff"/>
<text x="427.2" y="426.3" fill="#3838ff" stroke="#3838ff" stroke-width="0.3" textLength="5.8" lengthAdjust="spacingAndGlyphs">30</text>
<rect x="471.5" y="328.0" width="7" height="14" fill="#fff"/>
<text x="475.0" y="340.3" fill="#3838ff" stroke="#3838ff" stroke-width="0.3" textLength="5.8" lengthAdjust="spacingAndGlyphs">43</text>
<rect x="485.9" y="328.0" width="7" height="14" fill="#fff"/>
<text x="489.4" y="340.3" fill="#3838ff" stroke="#3838ff" stroke-width="0.3" textLength="5.8" lengthAdjust="spacingAndGlyphs">54</text>
<rect x="514.1" y="348.5" width="7" height="14" fill="#fff"/>
<text x="517.6" y="360.8" fill="#3838ff" stroke="#3838ff" stroke-width="0.3" textLength="5.8" lengthAdjust="spacingAndGlyphs">31</text>
<rect x="542.9" y="404.4" width="7" height="14" fill="#fff"/>
<text x="546.4" y="416.7" fill="#3838ff" stroke="#3838ff" stroke-width="0.3" textLength="5.8" lengthAdjust="spacingAndGlyphs">43</text>
<rect x="557.2" y="409.0" width="7" height="14" fill="#fff"/>
<text x="560.7" y="421.3" fill="#3838ff" stroke="#3838ff" stroke-width="0.3" textLength="5.8" lengthAdjust="spacingAndGlyphs">32</text>
<rect x="595.3" y="343.0" width="7" height="14" fill="#fff"/>
<text x="598.8" y="355.3" fill="#3838ff" stroke="#3838ff" stroke-width="0.3" textLength="5.8" lengthAdjust="spacingAndGlyphs">94</text>
<rect x="604.9" y="384.0" width="7" height="14" fill="#fff"/>
<text x="608.4" y="396.3" fill="#3838ff" stroke="#3838ff" stroke-width="0.3" textLength="5.8" lengthAdjust="spacingAndGlyphs">47</text>
<rect x="624.1" y="349.0" width="7" height="14" fill="#fff"/>
<text x="627.6" y="361.3" fill="#3838ff" stroke="#3838ff" stroke-width="0.3" textLength="5.8" lengthAdjust="spacingAndGlyphs">33</text>
</g>
<ellipse cx="299.2" cy="539.6" rx="1.6" ry="2.8" fill="#f02020"/>
<path d="M4.6 438.8V539.3M2.2 438.8H7M2.6 539.3H6.6" stroke="#3838ff" stroke-width="1.35" fill="none"/>
<g font-family="Liberation Sans, sans-serif" font-size="10" font-weight="bold" fill="#4040ff" text-anchor="middle"><text x="5.3" y="435.6" textLength="6.4" lengthAdjust="spacingAndGlyphs">0.1</text><text x="4.2" y="554.6" font-size="11.5" textLength="3" lengthAdjust="spacingAndGlyphs">0</text></g>
<path d="M43.0 37.7H175.8" stroke="#111" stroke-width="1.8" fill="none"/><path d="M40.0 37.7l7.5 -4.5v9z" fill="#111"/><path d="M178.8 37.7l-7.5 -4.5v9z" fill="#111"/>
<path d="M182.0 62.7H335.5" stroke="#111" stroke-width="1.8" fill="none"/><path d="M179.0 62.7l7.5 -4.5v9z" fill="#111"/><path d="M338.5 62.7l-7.5 -4.5v9z" fill="#111"/>
<path d="M351.4 50.2H450.2" stroke="#111" stroke-width="1.8" fill="none"/><path d="M348.4 50.2l7.5 -4.5v9z" fill="#111"/><path d="M453.2 50.2l-7.5 -4.5v9z" fill="#111"/>
<path d="M457.2 50.6H566.4" stroke="#111" stroke-width="1.8" fill="none"/><path d="M454.2 50.6l7.5 -4.5v9z" fill="#111"/><path d="M569.4 50.6l-7.5 -4.5v9z" fill="#111"/>
<path d="M573.2 43.6H633.6" stroke="#111" stroke-width="1.8" fill="none"/><path d="M570.2 43.6l7.5 -4.5v9z" fill="#111"/><path d="M636.6 43.6l-7.5 -4.5v9z" fill="#111"/>
<g font-family="Liberation Serif, serif" font-size="18" font-weight="bold" fill="#111" text-anchor="middle">
<text x="98.5" y="15.4">1</text>
<text x="262.5" y="39.0">2</text>
<text x="407.2" y="39.0">3</text>
<text x="502.7" y="39.0">4</text>
<text x="599.5" y="28.0">5</text>
</g>
<g font-family="Liberation Sans, sans-serif" font-weight="bold" fill="#0a0a0a" stroke="#0a0a0a" stroke-width="0.6"><text x="32.6" y="568" font-size="25">a</text><text x="639.3" y="559.5" font-size="23">b</text></g>
<path d="M671 95.3H778" stroke="#666" stroke-width="1.3" fill="none"/><path d="M671 95.3V572" stroke="#c4c4c4" stroke-width="1.3" fill="none"/>
<g font-family="Liberation Sans, sans-serif" font-size="17" font-weight="bold" text-anchor="start">
<text x="672.8" y="113.1" fill="#30f030" stroke="#30f030" stroke-width="0.7" stroke-linejoin="round" textLength="3.6" lengthAdjust="spacingAndGlyphs">1</text>
<text x="672.8" y="132.9" fill="#30f030" stroke="#30f030" stroke-width="0.7" stroke-linejoin="round" textLength="3.6" lengthAdjust="spacingAndGlyphs">2</text>
<text x="672.8" y="152.7" fill="#30f030" stroke="#30f030" stroke-width="0.7" stroke-linejoin="round" textLength="3.6" lengthAdjust="spacingAndGlyphs">3</text>
<text x="672.8" y="172.6" fill="#30f030" stroke="#30f030" stroke-width="0.7" stroke-linejoin="round" textLength="3.6" lengthAdjust="spacingAndGlyphs">4</text>
<text x="672.8" y="192.4" fill="#30f030" stroke="#30f030" stroke-width="0.7" stroke-linejoin="round" textLength="3.6" lengthAdjust="spacingAndGlyphs">5</text>
<text x="672.8" y="212.2" fill="#30f030" stroke="#30f030" stroke-width="0.7" stroke-linejoin="round" textLength="3.6" lengthAdjust="spacingAndGlyphs">6</text>
<text x="672.8" y="232.0" fill="#30f030" stroke="#30f030" stroke-width="0.7" stroke-linejoin="round" textLength="3.6" lengthAdjust="spacingAndGlyphs">7</text>
<text x="672.8" y="251.8" fill="#30f030" stroke="#30f030" stroke-width="0.7" stroke-linejoin="round" textLength="3.6" lengthAdjust="spacingAndGlyphs">8</text>
<text x="672.8" y="271.7" fill="#30f030" stroke="#30f030" stroke-width="0.7" stroke-linejoin="round" textLength="3.6" lengthAdjust="spacingAndGlyphs">9</text>
<text x="672.8" y="291.5" fill="#30f030" stroke="#30f030" stroke-width="0.7" stroke-linejoin="round" textLength="7.3" lengthAdjust="spacingAndGlyphs">10</text>
<text x="672.8" y="311.3" fill="#ff7a28" stroke="#ff7a28" stroke-width="0.7" stroke-linejoin="round" textLength="7.3" lengthAdjust="spacingAndGlyphs">11</text>
<text x="672.8" y="331.1" fill="#ff7a28" stroke="#ff7a28" stroke-width="0.7" stroke-linejoin="round" textLength="7.3" lengthAdjust="spacingAndGlyphs">12</text>
<text x="672.8" y="350.9" fill="#ff7a28" stroke="#ff7a28" stroke-width="0.7" stroke-linejoin="round" textLength="7.3" lengthAdjust="spacingAndGlyphs">13</text>
<text x="672.8" y="370.8" fill="#ff7a28" stroke="#ff7a28" stroke-width="0.7" stroke-linejoin="round" textLength="7.3" lengthAdjust="spacingAndGlyphs">14</text>
<text x="672.8" y="390.6" fill="#ff7a28" stroke="#ff7a28" stroke-width="0.7" stroke-linejoin="round" textLength="7.3" lengthAdjust="spacingAndGlyphs">15</text>
<text x="672.8" y="410.4" fill="#ff7a28" stroke="#ff7a28" stroke-width="0.7" stroke-linejoin="round" textLength="7.3" lengthAdjust="spacingAndGlyphs">16</text>
<text x="672.8" y="430.2" fill="#ff7a28" stroke="#ff7a28" stroke-width="0.7" stroke-linejoin="round" textLength="7.3" lengthAdjust="spacingAndGlyphs">17</text>
<text x="672.8" y="450.0" fill="#ff7a28" stroke="#ff7a28" stroke-width="0.7" stroke-linejoin="round" textLength="7.3" lengthAdjust="spacingAndGlyphs">18</text>
<text x="672.8" y="469.9" fill="#ff7a28" stroke="#ff7a28" stroke-width="0.7" stroke-linejoin="round" textLength="7.3" lengthAdjust="spacingAndGlyphs">19</text>
<text x="672.8" y="489.7" fill="#ff7a28" stroke="#ff7a28" stroke-width="0.7" stroke-linejoin="round" textLength="7.3" lengthAdjust="spacingAndGlyphs">20</text>
<text x="672.8" y="509.5" fill="#10f0f0" stroke="#10f0f0" stroke-width="0.7" stroke-linejoin="round" textLength="7.3" lengthAdjust="spacingAndGlyphs">21</text>
<text x="672.8" y="529.3" fill="#10f0f0" stroke="#10f0f0" stroke-width="0.7" stroke-linejoin="round" textLength="7.3" lengthAdjust="spacingAndGlyphs">22</text>
<text x="672.8" y="549.1" fill="#10f0f0" stroke="#10f0f0" stroke-width="0.7" stroke-linejoin="round" textLength="7.3" lengthAdjust="spacingAndGlyphs">23</text>
<text x="672.8" y="569.0" fill="#10f0f0" stroke="#10f0f0" stroke-width="0.7" stroke-linejoin="round" textLength="7.3" lengthAdjust="spacingAndGlyphs">24</text>
<text x="690.6" y="113.1" fill="#10f0f0" stroke="#10f0f0" stroke-width="0.7" stroke-linejoin="round" textLength="7.3" lengthAdjust="spacingAndGlyphs">25</text>
<text x="690.6" y="132.9" fill="#10f0f0" stroke="#10f0f0" stroke-width="0.7" stroke-linejoin="round" textLength="7.3" lengthAdjust="spacingAndGlyphs">26</text>
<text x="690.6" y="152.7" fill="#10f0f0" stroke="#10f0f0" stroke-width="0.7" stroke-linejoin="round" textLength="7.3" lengthAdjust="spacingAndGlyphs">27</text>
<text x="690.6" y="172.6" fill="#10f0f0" stroke="#10f0f0" stroke-width="0.7" stroke-linejoin="round" textLength="7.3" lengthAdjust="spacingAndGlyphs">28</text>
<text x="690.6" y="192.4" fill="#10f0f0" stroke="#10f0f0" stroke-width="0.7" stroke-linejoin="round" textLength="7.3" lengthAdjust="spacingAndGlyphs">29</text>
<text x="690.6" y="212.2" fill="#10f0f0" stroke="#10f0f0" stroke-width="0.7" stroke-linejoin="round" textLength="7.3" lengthAdjust="spacingAndGlyphs">30</text>
<text x="690.6" y="232.0" fill="#2828ff" stroke="#2828ff" stroke-width="0.7" stroke-linejoin="round" textLength="7.3" lengthAdjust="spacingAndGlyphs">31</text>
<text x="690.6" y="251.8" fill="#2828ff" stroke="#2828ff" stroke-width="0.7" stroke-linejoin="round" textLength="7.3" lengthAdjust="spacingAndGlyphs">32</text>
<text x="690.6" y="271.7" fill="#2828ff" stroke="#2828ff" stroke-width="0.7" stroke-linejoin="round" textLength="7.3" lengthAdjust="spacingAndGlyphs">33</text>
<text x="690.6" y="291.5" fill="#2828ff" stroke="#2828ff" stroke-width="0.7" stroke-linejoin="round" textLength="7.3" lengthAdjust="spacingAndGlyphs">34</text>
<text x="690.6" y="311.3" fill="#2828ff" stroke="#2828ff" stroke-width="0.7" stroke-linejoin="round" textLength="7.3" lengthAdjust="spacingAndGlyphs">35</text>
<text x="690.6" y="331.1" fill="#2828ff" stroke="#2828ff" stroke-width="0.7" stroke-linejoin="round" textLength="7.3" lengthAdjust="spacingAndGlyphs">36</text>
<text x="690.6" y="350.9" fill="#2828ff" stroke="#2828ff" stroke-width="0.7" stroke-linejoin="round" textLength="7.3" lengthAdjust="spacingAndGlyphs">37</text>
<text x="690.6" y="370.8" fill="#2828ff" stroke="#2828ff" stroke-width="0.7" stroke-linejoin="round" textLength="7.3" lengthAdjust="spacingAndGlyphs">38</text>
<text x="690.6" y="390.6" fill="#2828ff" stroke="#2828ff" stroke-width="0.7" stroke-linejoin="round" textLength="7.3" lengthAdjust="spacingAndGlyphs">39</text>
<text x="690.6" y="410.4" fill="#2828ff" stroke="#2828ff" stroke-width="0.7" stroke-linejoin="round" textLength="7.3" lengthAdjust="spacingAndGlyphs">40</text>
<text x="690.6" y="430.2" fill="#2828ff" stroke="#2828ff" stroke-width="0.7" stroke-linejoin="round" textLength="7.3" lengthAdjust="spacingAndGlyphs">41</text>
<text x="690.6" y="450.0" fill="#2828ff" stroke="#2828ff" stroke-width="0.7" stroke-linejoin="round" textLength="7.3" lengthAdjust="spacingAndGlyphs">42</text>
<text x="690.6" y="469.9" fill="#2828ff" stroke="#2828ff" stroke-width="0.7" stroke-linejoin="round" textLength="7.3" lengthAdjust="spacingAndGlyphs">43</text>
<text x="690.6" y="489.7" fill="#2828ff" stroke="#2828ff" stroke-width="0.7" stroke-linejoin="round" textLength="7.3" lengthAdjust="spacingAndGlyphs">44</text>
<text x="690.6" y="509.5" fill="#2828ff" stroke="#2828ff" stroke-width="0.7" stroke-linejoin="round" textLength="7.3" lengthAdjust="spacingAndGlyphs">45</text>
<text x="690.6" y="529.3" fill="#2828ff" stroke="#2828ff" stroke-width="0.7" stroke-linejoin="round" textLength="7.3" lengthAdjust="spacingAndGlyphs">46</text>
<text x="690.6" y="549.1" fill="#2828ff" stroke="#2828ff" stroke-width="0.7" stroke-linejoin="round" textLength="7.3" lengthAdjust="spacingAndGlyphs">47</text>
<text x="690.6" y="569.0" fill="#2828ff" stroke="#2828ff" stroke-width="0.7" stroke-linejoin="round" textLength="7.3" lengthAdjust="spacingAndGlyphs">48</text>
<text x="708.2" y="113.1" fill="#2828ff" stroke="#2828ff" stroke-width="0.7" stroke-linejoin="round" textLength="7.3" lengthAdjust="spacingAndGlyphs">49</text>
<text x="708.2" y="132.9" fill="#2828ff" stroke="#2828ff" stroke-width="0.7" stroke-linejoin="round" textLength="7.3" lengthAdjust="spacingAndGlyphs">50</text>
<text x="708.2" y="152.7" fill="#b4aa38" stroke="#b4aa38" stroke-width="0.7" stroke-linejoin="round" textLength="7.3" lengthAdjust="spacingAndGlyphs">51</text>
<text x="708.2" y="172.6" fill="#b4aa38" stroke="#b4aa38" stroke-width="0.7" stroke-linejoin="round" textLength="7.3" lengthAdjust="spacingAndGlyphs">52</text>
<text x="708.2" y="192.4" fill="#b4aa38" stroke="#b4aa38" stroke-width="0.7" stroke-linejoin="round" textLength="7.3" lengthAdjust="spacingAndGlyphs">53</text>
<text x="708.2" y="212.2" fill="#b4aa38" stroke="#b4aa38" stroke-width="0.7" stroke-linejoin="round" textLength="7.3" lengthAdjust="spacingAndGlyphs">54</text>
<text x="708.2" y="232.0" fill="#b4aa38" stroke="#b4aa38" stroke-width="0.7" stroke-linejoin="round" textLength="7.3" lengthAdjust="spacingAndGlyphs">55</text>
<text x="708.2" y="251.8" fill="#b4aa38" stroke="#b4aa38" stroke-width="0.7" stroke-linejoin="round" textLength="7.3" lengthAdjust="spacingAndGlyphs">56</text>
<text x="708.2" y="271.7" fill="#b4aa38" stroke="#b4aa38" stroke-width="0.7" stroke-linejoin="round" textLength="7.3" lengthAdjust="spacingAndGlyphs">57</text>
<text x="708.2" y="291.5" fill="#b4aa38" stroke="#b4aa38" stroke-width="0.7" stroke-linejoin="round" textLength="7.3" lengthAdjust="spacingAndGlyphs">58</text>
<text x="708.2" y="311.3" fill="#b4aa38" stroke="#b4aa38" stroke-width="0.7" stroke-linejoin="round" textLength="7.3" lengthAdjust="spacingAndGlyphs">59</text>
<text x="708.2" y="331.1" fill="#b4aa38" stroke="#b4aa38" stroke-width="0.7" stroke-linejoin="round" textLength="7.3" lengthAdjust="spacingAndGlyphs">60</text>
<text x="708.2" y="350.9" fill="#a838e0" stroke="#a838e0" stroke-width="0.7" stroke-linejoin="round" textLength="7.3" lengthAdjust="spacingAndGlyphs">61</text>
<text x="708.2" y="370.8" fill="#a838e0" stroke="#a838e0" stroke-width="0.7" stroke-linejoin="round" textLength="7.3" lengthAdjust="spacingAndGlyphs">62</text>
<text x="708.2" y="390.6" fill="#a838e0" stroke="#a838e0" stroke-width="0.7" stroke-linejoin="round" textLength="7.3" lengthAdjust="spacingAndGlyphs">63</text>
<text x="708.2" y="410.4" fill="#a838e0" stroke="#a838e0" stroke-width="0.7" stroke-linejoin="round" textLength="7.3" lengthAdjust="spacingAndGlyphs">64</text>
<text x="708.2" y="430.2" fill="#a838e0" stroke="#a838e0" stroke-width="0.7" stroke-linejoin="round" textLength="7.3" lengthAdjust="spacingAndGlyphs">65</text>
<text x="708.2" y="450.0" fill="#a838e0" stroke="#a838e0" stroke-width="0.7" stroke-linejoin="round" textLength="7.3" lengthAdjust="spacingAndGlyphs">66</text>
<text x="708.2" y="469.9" fill="#a838e0" stroke="#a838e0" stroke-width="0.7" stroke-linejoin="round" textLength="7.3" lengthAdjust="spacingAndGlyphs">67</text>
<text x="708.2" y="489.7" fill="#a838e0" stroke="#a838e0" stroke-width="0.7" stroke-linejoin="round" textLength="7.3" lengthAdjust="spacingAndGlyphs">68</text>
<text x="708.2" y="509.5" fill="#a838e0" stroke="#a838e0" stroke-width="0.7" stroke-linejoin="round" textLength="7.3" lengthAdjust="spacingAndGlyphs">69</text>
<text x="708.2" y="529.3" fill="#a838e0" stroke="#a838e0" stroke-width="0.7" stroke-linejoin="round" textLength="7.3" lengthAdjust="spacingAndGlyphs">70</text>
<text x="708.2" y="549.1" fill="#a838e0" stroke="#a838e0" stroke-width="0.7" stroke-linejoin="round" textLength="7.3" lengthAdjust="spacingAndGlyphs">71</text>
<text x="708.2" y="569.0" fill="#ff38ff" stroke="#ff38ff" stroke-width="0.7" stroke-linejoin="round" textLength="7.3" lengthAdjust="spacingAndGlyphs">72</text>
<text x="725.4" y="113.1" fill="#ff38ff" stroke="#ff38ff" stroke-width="0.7" stroke-linejoin="round" textLength="7.3" lengthAdjust="spacingAndGlyphs">73</text>
<text x="725.4" y="132.9" fill="#ff38ff" stroke="#ff38ff" stroke-width="0.7" stroke-linejoin="round" textLength="7.3" lengthAdjust="spacingAndGlyphs">74</text>
<text x="725.4" y="152.7" fill="#ff38ff" stroke="#ff38ff" stroke-width="0.7" stroke-linejoin="round" textLength="7.3" lengthAdjust="spacingAndGlyphs">75</text>
<text x="725.4" y="172.6" fill="#ff38ff" stroke="#ff38ff" stroke-width="0.7" stroke-linejoin="round" textLength="7.3" lengthAdjust="spacingAndGlyphs">76</text>
<text x="725.4" y="192.4" fill="#ff38ff" stroke="#ff38ff" stroke-width="0.7" stroke-linejoin="round" textLength="7.3" lengthAdjust="spacingAndGlyphs">77</text>
<text x="725.4" y="212.2" fill="#ff38ff" stroke="#ff38ff" stroke-width="0.7" stroke-linejoin="round" textLength="7.3" lengthAdjust="spacingAndGlyphs">78</text>
<text x="725.4" y="232.0" fill="#ff38ff" stroke="#ff38ff" stroke-width="0.7" stroke-linejoin="round" textLength="7.3" lengthAdjust="spacingAndGlyphs">79</text>
<text x="725.4" y="251.8" fill="#ff38ff" stroke="#ff38ff" stroke-width="0.7" stroke-linejoin="round" textLength="7.3" lengthAdjust="spacingAndGlyphs">80</text>
<text x="725.4" y="271.7" fill="#ff38ff" stroke="#ff38ff" stroke-width="0.7" stroke-linejoin="round" textLength="7.3" lengthAdjust="spacingAndGlyphs">81</text>
<text x="725.4" y="291.5" fill="#f02020" stroke="#f02020" stroke-width="0.7" stroke-linejoin="round" textLength="7.3" lengthAdjust="spacingAndGlyphs">82</text>
<text x="725.4" y="311.3" fill="#f02020" stroke="#f02020" stroke-width="0.7" stroke-linejoin="round" textLength="7.3" lengthAdjust="spacingAndGlyphs">83</text>
<text x="725.4" y="331.1" fill="#f02020" stroke="#f02020" stroke-width="0.7" stroke-linejoin="round" textLength="7.3" lengthAdjust="spacingAndGlyphs">84</text>
<text x="725.4" y="350.9" fill="#f02020" stroke="#f02020" stroke-width="0.7" stroke-linejoin="round" textLength="7.3" lengthAdjust="spacingAndGlyphs">85</text>
<text x="725.4" y="370.8" fill="#f02020" stroke="#f02020" stroke-width="0.7" stroke-linejoin="round" textLength="7.3" lengthAdjust="spacingAndGlyphs">86</text>
<text x="725.4" y="390.6" fill="#f02020" stroke="#f02020" stroke-width="0.7" stroke-linejoin="round" textLength="7.3" lengthAdjust="spacingAndGlyphs">87</text>
<text x="725.4" y="410.4" fill="#f02020" stroke="#f02020" stroke-width="0.7" stroke-linejoin="round" textLength="7.3" lengthAdjust="spacingAndGlyphs">88</text>
<text x="725.4" y="430.2" fill="#f02020" stroke="#f02020" stroke-width="0.7" stroke-linejoin="round" textLength="7.3" lengthAdjust="spacingAndGlyphs">89</text>
<text x="725.4" y="450.0" fill="#f02020" stroke="#f02020" stroke-width="0.7" stroke-linejoin="round" textLength="7.3" lengthAdjust="spacingAndGlyphs">90</text>
<text x="725.4" y="469.9" fill="#f02020" stroke="#f02020" stroke-width="0.7" stroke-linejoin="round" textLength="7.3" lengthAdjust="spacingAndGlyphs">91</text>
<text x="725.4" y="489.7" fill="#f02020" stroke="#f02020" stroke-width="0.7" stroke-linejoin="round" textLength="7.3" lengthAdjust="spacingAndGlyphs">92</text>
<text x="725.4" y="509.5" fill="#f02020" stroke="#f02020" stroke-width="0.7" stroke-linejoin="round" textLength="7.3" lengthAdjust="spacingAndGlyphs">93</text>
<text x="725.4" y="529.3" fill="#f02020" stroke="#f02020" stroke-width="0.7" stroke-linejoin="round" textLength="7.3" lengthAdjust="spacingAndGlyphs">94</text>
<text x="725.4" y="549.1" fill="#f02020" stroke="#f02020" stroke-width="0.7" stroke-linejoin="round" textLength="7.3" lengthAdjust="spacingAndGlyphs">95</text>
<text x="725.4" y="569.0" fill="#f02020" stroke="#f02020" stroke-width="0.7" stroke-linejoin="round" textLength="7.3" lengthAdjust="spacingAndGlyphs">96</text>
<text x="742.9" y="113.1" fill="#f02020" stroke="#f02020" stroke-width="0.7" stroke-linejoin="round" textLength="7.3" lengthAdjust="spacingAndGlyphs">97</text>
<text x="742.9" y="132.9" fill="#f02020" stroke="#f02020" stroke-width="0.7" stroke-linejoin="round" textLength="7.3" lengthAdjust="spacingAndGlyphs">98</text>
<text x="742.9" y="152.7" fill="#f02020" stroke="#f02020" stroke-width="0.7" stroke-linejoin="round" textLength="7.3" lengthAdjust="spacingAndGlyphs">99</text>
<text x="742.9" y="172.6" fill="#f02020" stroke="#f02020" stroke-width="0.7" stroke-linejoin="round" textLength="10.9" lengthAdjust="spacingAndGlyphs">100</text>
<text x="742.9" y="192.4" fill="#f02020" stroke="#f02020" stroke-width="0.7" stroke-linejoin="round" textLength="10.9" lengthAdjust="spacingAndGlyphs">101</text>
<text x="742.9" y="212.2" fill="#f02020" stroke="#f02020" stroke-width="0.7" stroke-linejoin="round" textLength="10.9" lengthAdjust="spacingAndGlyphs">102</text>
<text x="742.9" y="232.0" fill="#303030" stroke="#303030" stroke-width="0.7" stroke-linejoin="round" textLength="10.9" lengthAdjust="spacingAndGlyphs">103</text>
<text x="742.9" y="251.8" fill="#303030" stroke="#303030" stroke-width="0.7" stroke-linejoin="round" textLength="10.9" lengthAdjust="spacingAndGlyphs">104</text>
<text x="742.9" y="271.7" fill="#303030" stroke="#303030" stroke-width="0.7" stroke-linejoin="round" textLength="10.9" lengthAdjust="spacingAndGlyphs">105</text>
<text x="742.9" y="291.5" fill="#303030" stroke="#303030" stroke-width="0.7" stroke-linejoin="round" textLength="10.9" lengthAdjust="spacingAndGlyphs">106</text>
<text x="742.9" y="311.3" fill="#303030" stroke="#303030" stroke-width="0.7" stroke-linejoin="round" textLength="10.9" lengthAdjust="spacingAndGlyphs">107</text>
<text x="742.9" y="331.1" fill="#303030" stroke="#303030" stroke-width="0.7" stroke-linejoin="round" textLength="10.9" lengthAdjust="spacingAndGlyphs">108</text>
<text x="742.9" y="350.9" fill="#303030" stroke="#303030" stroke-width="0.7" stroke-linejoin="round" textLength="10.9" lengthAdjust="spacingAndGlyphs">109</text>
<text x="742.9" y="370.8" fill="#303030" stroke="#303030" stroke-width="0.7" stroke-linejoin="round" textLength="10.9" lengthAdjust="spacingAndGlyphs">110</text>
<text x="742.9" y="390.6" fill="#303030" stroke="#303030" stroke-width="0.7" stroke-linejoin="round" textLength="10.9" lengthAdjust="spacingAndGlyphs">111</text>
<text x="742.9" y="410.4" fill="#303030" stroke="#303030" stroke-width="0.7" stroke-linejoin="round" textLength="10.9" lengthAdjust="spacingAndGlyphs">112</text>
<text x="742.9" y="430.2" fill="#303030" stroke="#303030" stroke-width="0.7" stroke-linejoin="round" textLength="10.9" lengthAdjust="spacingAndGlyphs">113</text>
<text x="742.9" y="450.0" fill="#303030" stroke="#303030" stroke-width="0.7" stroke-linejoin="round" textLength="10.9" lengthAdjust="spacingAndGlyphs">114</text>
<text x="742.9" y="469.9" fill="#303030" stroke="#303030" stroke-width="0.7" stroke-linejoin="round" textLength="10.9" lengthAdjust="spacingAndGlyphs">115</text>
<text x="742.9" y="489.7" fill="#303030" stroke="#303030" stroke-width="0.7" stroke-linejoin="round" textLength="10.9" lengthAdjust="spacingAndGlyphs">116</text>
<text x="742.9" y="509.5" fill="#303030" stroke="#303030" stroke-width="0.7" stroke-linejoin="round" textLength="10.9" lengthAdjust="spacingAndGlyphs">117</text>
<text x="742.9" y="529.3" fill="#303030" stroke="#303030" stroke-width="0.7" stroke-linejoin="round" textLength="10.9" lengthAdjust="spacingAndGlyphs">118</text>
<text x="742.9" y="549.1" fill="#303030" stroke="#303030" stroke-width="0.7" stroke-linejoin="round" textLength="10.9" lengthAdjust="spacingAndGlyphs">119</text>
<text x="742.9" y="569.0" fill="#303030" stroke="#303030" stroke-width="0.7" stroke-linejoin="round" textLength="10.9" lengthAdjust="spacingAndGlyphs">120</text>
<text x="761.6" y="113.1" fill="#303030" stroke="#303030" stroke-width="0.7" stroke-linejoin="round" textLength="10.9" lengthAdjust="spacingAndGlyphs">121</text>
<text x="761.6" y="132.9" fill="#303030" stroke="#303030" stroke-width="0.7" stroke-linejoin="round" textLength="10.9" lengthAdjust="spacingAndGlyphs">122</text>
<text x="761.6" y="152.7" fill="#303030" stroke="#303030" stroke-width="0.7" stroke-linejoin="round" textLength="10.9" lengthAdjust="spacingAndGlyphs">123</text>
<text x="761.6" y="172.6" fill="#303030" stroke="#303030" stroke-width="0.7" stroke-linejoin="round" textLength="10.9" lengthAdjust="spacingAndGlyphs">124</text>
</g>
</g>
</svg>
</body></html>
